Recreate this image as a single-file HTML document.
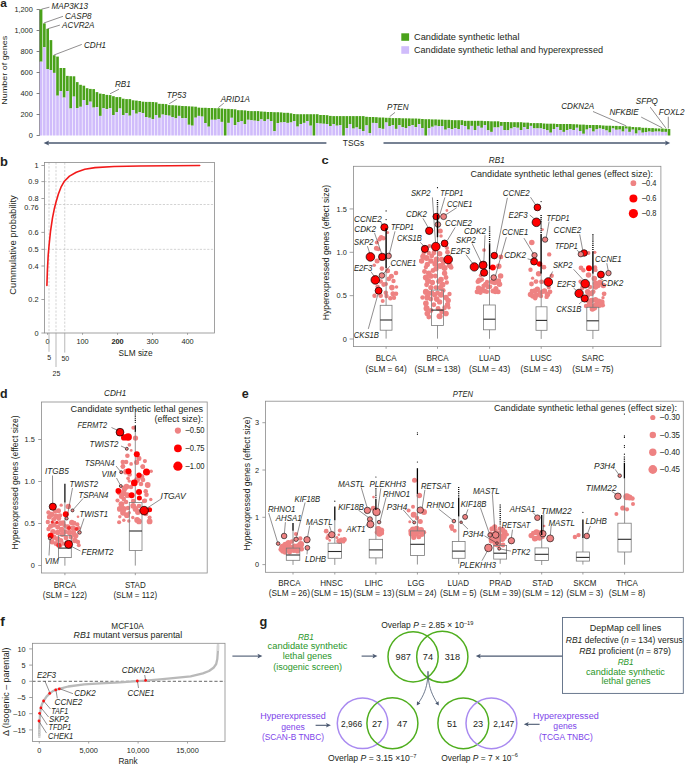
<!DOCTYPE html>
<html><head><meta charset="utf-8"><style>
html,body{margin:0;padding:0;background:#fff;}
svg{display:block;}
</style></head><body>
<svg width="685" height="765" viewBox="0 0 685 765" font-family="'Liberation Sans', sans-serif" fill="#231f20">
<rect width="685" height="765" fill="#fff"/>
<text x="0.30" y="6.60" font-size="11.5" font-weight="bold" textLength="6.60" lengthAdjust="spacingAndGlyphs" >a</text>
<line x1="39.60" y1="9.40" x2="39.60" y2="135.60" stroke="#5e5e5e" stroke-width="0.8" />
<rect x="39.75" y="9.40" width="2.65" height="52.30" fill="#4aa21a" stroke="none" stroke-width="0.8" />
<rect x="39.75" y="61.70" width="2.65" height="73.80" fill="#d0bcfb" stroke="none" stroke-width="0.8" />
<rect x="43.04" y="23.40" width="2.65" height="23.80" fill="#4aa21a" stroke="none" stroke-width="0.8" />
<rect x="43.04" y="47.20" width="2.65" height="88.30" fill="#d0bcfb" stroke="none" stroke-width="0.8" />
<rect x="46.33" y="28.80" width="2.65" height="40.20" fill="#4aa21a" stroke="none" stroke-width="0.8" />
<rect x="46.33" y="69.00" width="2.65" height="66.50" fill="#d0bcfb" stroke="none" stroke-width="0.8" />
<rect x="49.61" y="40.10" width="2.65" height="29.90" fill="#4aa21a" stroke="none" stroke-width="0.8" />
<rect x="49.61" y="70.00" width="2.65" height="65.50" fill="#d0bcfb" stroke="none" stroke-width="0.8" />
<rect x="52.90" y="55.30" width="2.65" height="17.60" fill="#4aa21a" stroke="none" stroke-width="0.8" />
<rect x="52.90" y="72.90" width="2.65" height="62.60" fill="#d0bcfb" stroke="none" stroke-width="0.8" />
<rect x="56.19" y="56.60" width="2.65" height="39.10" fill="#4aa21a" stroke="none" stroke-width="0.8" />
<rect x="56.19" y="95.70" width="2.65" height="39.80" fill="#d0bcfb" stroke="none" stroke-width="0.8" />
<rect x="59.48" y="68.00" width="2.65" height="23.00" fill="#4aa21a" stroke="none" stroke-width="0.8" />
<rect x="59.48" y="91.00" width="2.65" height="44.50" fill="#d0bcfb" stroke="none" stroke-width="0.8" />
<rect x="62.76" y="68.00" width="2.65" height="29.60" fill="#4aa21a" stroke="none" stroke-width="0.8" />
<rect x="62.76" y="97.60" width="2.65" height="37.90" fill="#d0bcfb" stroke="none" stroke-width="0.8" />
<rect x="66.05" y="75.90" width="2.65" height="15.10" fill="#4aa21a" stroke="none" stroke-width="0.8" />
<rect x="66.05" y="91.00" width="2.65" height="44.50" fill="#d0bcfb" stroke="none" stroke-width="0.8" />
<rect x="69.34" y="76.20" width="2.65" height="32.30" fill="#4aa21a" stroke="none" stroke-width="0.8" />
<rect x="69.34" y="108.50" width="2.65" height="27.00" fill="#d0bcfb" stroke="none" stroke-width="0.8" />
<rect x="72.62" y="76.30" width="2.65" height="20.30" fill="#4aa21a" stroke="none" stroke-width="0.8" />
<rect x="72.62" y="96.60" width="2.65" height="38.90" fill="#d0bcfb" stroke="none" stroke-width="0.8" />
<rect x="75.91" y="82.10" width="2.65" height="25.90" fill="#4aa21a" stroke="none" stroke-width="0.8" />
<rect x="75.91" y="108.00" width="2.65" height="27.50" fill="#d0bcfb" stroke="none" stroke-width="0.8" />
<rect x="79.20" y="84.80" width="2.65" height="22.00" fill="#4aa21a" stroke="none" stroke-width="0.8" />
<rect x="79.20" y="106.80" width="2.65" height="28.70" fill="#d0bcfb" stroke="none" stroke-width="0.8" />
<rect x="82.49" y="85.70" width="2.65" height="14.30" fill="#4aa21a" stroke="none" stroke-width="0.8" />
<rect x="82.49" y="100.00" width="2.65" height="35.50" fill="#d0bcfb" stroke="none" stroke-width="0.8" />
<rect x="85.78" y="88.20" width="2.65" height="16.80" fill="#4aa21a" stroke="none" stroke-width="0.8" />
<rect x="85.78" y="105.00" width="2.65" height="30.50" fill="#d0bcfb" stroke="none" stroke-width="0.8" />
<rect x="89.06" y="88.90" width="2.65" height="12.80" fill="#4aa21a" stroke="none" stroke-width="0.8" />
<rect x="89.06" y="101.70" width="2.65" height="33.80" fill="#d0bcfb" stroke="none" stroke-width="0.8" />
<rect x="92.35" y="89.10" width="2.65" height="18.50" fill="#4aa21a" stroke="none" stroke-width="0.8" />
<rect x="92.35" y="107.60" width="2.65" height="27.90" fill="#d0bcfb" stroke="none" stroke-width="0.8" />
<rect x="95.64" y="92.10" width="2.65" height="15.00" fill="#4aa21a" stroke="none" stroke-width="0.8" />
<rect x="95.64" y="107.10" width="2.65" height="28.40" fill="#d0bcfb" stroke="none" stroke-width="0.8" />
<rect x="98.93" y="93.60" width="2.65" height="22.30" fill="#4aa21a" stroke="none" stroke-width="0.8" />
<rect x="98.93" y="115.90" width="2.65" height="19.60" fill="#d0bcfb" stroke="none" stroke-width="0.8" />
<rect x="102.21" y="94.00" width="2.65" height="14.20" fill="#4aa21a" stroke="none" stroke-width="0.8" />
<rect x="102.21" y="108.20" width="2.65" height="27.30" fill="#d0bcfb" stroke="none" stroke-width="0.8" />
<rect x="105.50" y="94.90" width="2.65" height="14.20" fill="#4aa21a" stroke="none" stroke-width="0.8" />
<rect x="105.50" y="109.10" width="2.65" height="26.40" fill="#d0bcfb" stroke="none" stroke-width="0.8" />
<rect x="108.79" y="95.10" width="2.65" height="13.10" fill="#4aa21a" stroke="none" stroke-width="0.8" />
<rect x="108.79" y="108.20" width="2.65" height="27.30" fill="#d0bcfb" stroke="none" stroke-width="0.8" />
<rect x="112.08" y="96.20" width="2.65" height="18.80" fill="#4aa21a" stroke="none" stroke-width="0.8" />
<rect x="112.08" y="115.00" width="2.65" height="20.50" fill="#d0bcfb" stroke="none" stroke-width="0.8" />
<rect x="115.36" y="97.10" width="2.65" height="15.10" fill="#4aa21a" stroke="none" stroke-width="0.8" />
<rect x="115.36" y="112.20" width="2.65" height="23.30" fill="#d0bcfb" stroke="none" stroke-width="0.8" />
<rect x="118.65" y="97.10" width="2.65" height="11.40" fill="#4aa21a" stroke="none" stroke-width="0.8" />
<rect x="118.65" y="108.50" width="2.65" height="27.00" fill="#d0bcfb" stroke="none" stroke-width="0.8" />
<rect x="121.94" y="98.70" width="2.65" height="16.50" fill="#4aa21a" stroke="none" stroke-width="0.8" />
<rect x="121.94" y="115.20" width="2.65" height="20.30" fill="#d0bcfb" stroke="none" stroke-width="0.8" />
<rect x="125.23" y="99.10" width="2.65" height="14.00" fill="#4aa21a" stroke="none" stroke-width="0.8" />
<rect x="125.23" y="113.10" width="2.65" height="22.40" fill="#d0bcfb" stroke="none" stroke-width="0.8" />
<rect x="128.51" y="99.10" width="2.65" height="16.60" fill="#4aa21a" stroke="none" stroke-width="0.8" />
<rect x="128.51" y="115.70" width="2.65" height="19.80" fill="#d0bcfb" stroke="none" stroke-width="0.8" />
<rect x="131.80" y="100.30" width="2.65" height="9.70" fill="#4aa21a" stroke="none" stroke-width="0.8" />
<rect x="131.80" y="110.00" width="2.65" height="25.50" fill="#d0bcfb" stroke="none" stroke-width="0.8" />
<rect x="135.09" y="100.60" width="2.65" height="13.10" fill="#4aa21a" stroke="none" stroke-width="0.8" />
<rect x="135.09" y="113.70" width="2.65" height="21.80" fill="#d0bcfb" stroke="none" stroke-width="0.8" />
<rect x="138.38" y="101.00" width="2.65" height="11.20" fill="#4aa21a" stroke="none" stroke-width="0.8" />
<rect x="138.38" y="112.20" width="2.65" height="23.30" fill="#d0bcfb" stroke="none" stroke-width="0.8" />
<rect x="141.66" y="101.70" width="2.65" height="11.40" fill="#4aa21a" stroke="none" stroke-width="0.8" />
<rect x="141.66" y="113.10" width="2.65" height="22.40" fill="#d0bcfb" stroke="none" stroke-width="0.8" />
<rect x="144.95" y="101.90" width="2.65" height="15.10" fill="#4aa21a" stroke="none" stroke-width="0.8" />
<rect x="144.95" y="117.00" width="2.65" height="18.50" fill="#d0bcfb" stroke="none" stroke-width="0.8" />
<rect x="148.24" y="101.90" width="2.65" height="15.90" fill="#4aa21a" stroke="none" stroke-width="0.8" />
<rect x="148.24" y="117.80" width="2.65" height="17.70" fill="#d0bcfb" stroke="none" stroke-width="0.8" />
<rect x="151.53" y="102.00" width="2.65" height="17.00" fill="#4aa21a" stroke="none" stroke-width="0.8" />
<rect x="151.53" y="119.00" width="2.65" height="16.50" fill="#d0bcfb" stroke="none" stroke-width="0.8" />
<rect x="154.81" y="102.30" width="2.65" height="12.70" fill="#4aa21a" stroke="none" stroke-width="0.8" />
<rect x="154.81" y="115.00" width="2.65" height="20.50" fill="#d0bcfb" stroke="none" stroke-width="0.8" />
<rect x="158.10" y="103.80" width="2.65" height="14.00" fill="#4aa21a" stroke="none" stroke-width="0.8" />
<rect x="158.10" y="117.80" width="2.65" height="17.70" fill="#d0bcfb" stroke="none" stroke-width="0.8" />
<rect x="161.39" y="103.90" width="2.65" height="10.70" fill="#4aa21a" stroke="none" stroke-width="0.8" />
<rect x="161.39" y="114.60" width="2.65" height="20.90" fill="#d0bcfb" stroke="none" stroke-width="0.8" />
<rect x="164.68" y="104.10" width="2.65" height="10.90" fill="#4aa21a" stroke="none" stroke-width="0.8" />
<rect x="164.68" y="115.00" width="2.65" height="20.50" fill="#d0bcfb" stroke="none" stroke-width="0.8" />
<rect x="167.96" y="105.10" width="2.65" height="10.60" fill="#4aa21a" stroke="none" stroke-width="0.8" />
<rect x="167.96" y="115.70" width="2.65" height="19.80" fill="#d0bcfb" stroke="none" stroke-width="0.8" />
<rect x="171.25" y="105.20" width="2.65" height="11.80" fill="#4aa21a" stroke="none" stroke-width="0.8" />
<rect x="171.25" y="117.00" width="2.65" height="18.50" fill="#d0bcfb" stroke="none" stroke-width="0.8" />
<rect x="174.54" y="105.40" width="2.65" height="12.90" fill="#4aa21a" stroke="none" stroke-width="0.8" />
<rect x="174.54" y="118.30" width="2.65" height="17.20" fill="#d0bcfb" stroke="none" stroke-width="0.8" />
<rect x="177.83" y="105.70" width="2.65" height="10.20" fill="#4aa21a" stroke="none" stroke-width="0.8" />
<rect x="177.83" y="115.90" width="2.65" height="19.60" fill="#d0bcfb" stroke="none" stroke-width="0.8" />
<rect x="181.11" y="106.00" width="2.65" height="12.30" fill="#4aa21a" stroke="none" stroke-width="0.8" />
<rect x="181.11" y="118.30" width="2.65" height="17.20" fill="#d0bcfb" stroke="none" stroke-width="0.8" />
<rect x="184.40" y="106.10" width="2.65" height="12.00" fill="#4aa21a" stroke="none" stroke-width="0.8" />
<rect x="184.40" y="118.10" width="2.65" height="17.40" fill="#d0bcfb" stroke="none" stroke-width="0.8" />
<rect x="187.69" y="106.30" width="2.65" height="18.50" fill="#4aa21a" stroke="none" stroke-width="0.8" />
<rect x="187.69" y="124.80" width="2.65" height="10.70" fill="#d0bcfb" stroke="none" stroke-width="0.8" />
<rect x="190.97" y="106.50" width="2.65" height="19.20" fill="#4aa21a" stroke="none" stroke-width="0.8" />
<rect x="190.97" y="125.70" width="2.65" height="9.80" fill="#d0bcfb" stroke="none" stroke-width="0.8" />
<rect x="194.26" y="106.70" width="2.65" height="11.00" fill="#4aa21a" stroke="none" stroke-width="0.8" />
<rect x="194.26" y="117.70" width="2.65" height="17.80" fill="#d0bcfb" stroke="none" stroke-width="0.8" />
<rect x="197.55" y="107.60" width="2.65" height="8.30" fill="#4aa21a" stroke="none" stroke-width="0.8" />
<rect x="197.55" y="115.90" width="2.65" height="19.60" fill="#d0bcfb" stroke="none" stroke-width="0.8" />
<rect x="200.84" y="107.80" width="2.65" height="8.80" fill="#4aa21a" stroke="none" stroke-width="0.8" />
<rect x="200.84" y="116.60" width="2.65" height="18.90" fill="#d0bcfb" stroke="none" stroke-width="0.8" />
<rect x="204.12" y="107.80" width="2.65" height="15.30" fill="#4aa21a" stroke="none" stroke-width="0.8" />
<rect x="204.12" y="123.10" width="2.65" height="12.40" fill="#d0bcfb" stroke="none" stroke-width="0.8" />
<rect x="207.41" y="108.00" width="2.65" height="18.70" fill="#4aa21a" stroke="none" stroke-width="0.8" />
<rect x="207.41" y="126.70" width="2.65" height="8.80" fill="#d0bcfb" stroke="none" stroke-width="0.8" />
<rect x="210.70" y="108.00" width="2.65" height="11.80" fill="#4aa21a" stroke="none" stroke-width="0.8" />
<rect x="210.70" y="119.80" width="2.65" height="15.70" fill="#d0bcfb" stroke="none" stroke-width="0.8" />
<rect x="213.99" y="108.20" width="2.65" height="11.60" fill="#4aa21a" stroke="none" stroke-width="0.8" />
<rect x="213.99" y="119.80" width="2.65" height="15.70" fill="#d0bcfb" stroke="none" stroke-width="0.8" />
<rect x="217.28" y="108.20" width="2.65" height="10.80" fill="#4aa21a" stroke="none" stroke-width="0.8" />
<rect x="217.28" y="119.00" width="2.65" height="16.50" fill="#d0bcfb" stroke="none" stroke-width="0.8" />
<rect x="220.56" y="108.50" width="2.65" height="13.40" fill="#4aa21a" stroke="none" stroke-width="0.8" />
<rect x="220.56" y="121.90" width="2.65" height="13.60" fill="#d0bcfb" stroke="none" stroke-width="0.8" />
<rect x="223.85" y="108.90" width="2.65" height="26.60" fill="#4aa21a" stroke="none" stroke-width="0.8" />
<rect x="227.14" y="108.90" width="2.65" height="14.00" fill="#4aa21a" stroke="none" stroke-width="0.8" />
<rect x="227.14" y="122.90" width="2.65" height="12.60" fill="#d0bcfb" stroke="none" stroke-width="0.8" />
<rect x="230.43" y="109.10" width="2.65" height="8.70" fill="#4aa21a" stroke="none" stroke-width="0.8" />
<rect x="230.43" y="117.80" width="2.65" height="17.70" fill="#d0bcfb" stroke="none" stroke-width="0.8" />
<rect x="233.71" y="109.30" width="2.65" height="15.80" fill="#4aa21a" stroke="none" stroke-width="0.8" />
<rect x="233.71" y="125.10" width="2.65" height="10.40" fill="#d0bcfb" stroke="none" stroke-width="0.8" />
<rect x="237.00" y="110.20" width="2.65" height="11.80" fill="#4aa21a" stroke="none" stroke-width="0.8" />
<rect x="237.00" y="122.00" width="2.65" height="13.50" fill="#d0bcfb" stroke="none" stroke-width="0.8" />
<rect x="240.29" y="110.20" width="2.65" height="10.80" fill="#4aa21a" stroke="none" stroke-width="0.8" />
<rect x="240.29" y="121.00" width="2.65" height="14.50" fill="#d0bcfb" stroke="none" stroke-width="0.8" />
<rect x="243.58" y="110.40" width="2.65" height="13.80" fill="#4aa21a" stroke="none" stroke-width="0.8" />
<rect x="243.58" y="124.20" width="2.65" height="11.30" fill="#d0bcfb" stroke="none" stroke-width="0.8" />
<rect x="246.86" y="110.90" width="2.65" height="8.90" fill="#4aa21a" stroke="none" stroke-width="0.8" />
<rect x="246.86" y="119.80" width="2.65" height="15.70" fill="#d0bcfb" stroke="none" stroke-width="0.8" />
<rect x="250.15" y="111.10" width="2.65" height="9.20" fill="#4aa21a" stroke="none" stroke-width="0.8" />
<rect x="250.15" y="120.30" width="2.65" height="15.20" fill="#d0bcfb" stroke="none" stroke-width="0.8" />
<rect x="253.44" y="111.10" width="2.65" height="9.60" fill="#4aa21a" stroke="none" stroke-width="0.8" />
<rect x="253.44" y="120.70" width="2.65" height="14.80" fill="#d0bcfb" stroke="none" stroke-width="0.8" />
<rect x="256.73" y="111.10" width="2.65" height="9.90" fill="#4aa21a" stroke="none" stroke-width="0.8" />
<rect x="256.73" y="121.00" width="2.65" height="14.50" fill="#d0bcfb" stroke="none" stroke-width="0.8" />
<rect x="260.01" y="111.50" width="2.65" height="7.90" fill="#4aa21a" stroke="none" stroke-width="0.8" />
<rect x="260.01" y="119.40" width="2.65" height="16.10" fill="#d0bcfb" stroke="none" stroke-width="0.8" />
<rect x="263.30" y="111.70" width="2.65" height="9.30" fill="#4aa21a" stroke="none" stroke-width="0.8" />
<rect x="263.30" y="121.00" width="2.65" height="14.50" fill="#d0bcfb" stroke="none" stroke-width="0.8" />
<rect x="266.59" y="112.00" width="2.65" height="7.40" fill="#4aa21a" stroke="none" stroke-width="0.8" />
<rect x="266.59" y="119.40" width="2.65" height="16.10" fill="#d0bcfb" stroke="none" stroke-width="0.8" />
<rect x="269.88" y="112.00" width="2.65" height="9.00" fill="#4aa21a" stroke="none" stroke-width="0.8" />
<rect x="269.88" y="121.00" width="2.65" height="14.50" fill="#d0bcfb" stroke="none" stroke-width="0.8" />
<rect x="273.16" y="112.20" width="2.65" height="19.00" fill="#4aa21a" stroke="none" stroke-width="0.8" />
<rect x="273.16" y="131.20" width="2.65" height="4.30" fill="#d0bcfb" stroke="none" stroke-width="0.8" />
<rect x="276.45" y="112.20" width="2.65" height="10.90" fill="#4aa21a" stroke="none" stroke-width="0.8" />
<rect x="276.45" y="123.10" width="2.65" height="12.40" fill="#d0bcfb" stroke="none" stroke-width="0.8" />
<rect x="279.74" y="112.40" width="2.65" height="10.10" fill="#4aa21a" stroke="none" stroke-width="0.8" />
<rect x="279.74" y="122.50" width="2.65" height="13.00" fill="#d0bcfb" stroke="none" stroke-width="0.8" />
<rect x="283.02" y="112.80" width="2.65" height="9.20" fill="#4aa21a" stroke="none" stroke-width="0.8" />
<rect x="283.02" y="122.00" width="2.65" height="13.50" fill="#d0bcfb" stroke="none" stroke-width="0.8" />
<rect x="286.31" y="112.80" width="2.65" height="10.10" fill="#4aa21a" stroke="none" stroke-width="0.8" />
<rect x="286.31" y="122.90" width="2.65" height="12.60" fill="#d0bcfb" stroke="none" stroke-width="0.8" />
<rect x="289.60" y="113.30" width="2.65" height="9.20" fill="#4aa21a" stroke="none" stroke-width="0.8" />
<rect x="289.60" y="122.50" width="2.65" height="13.00" fill="#d0bcfb" stroke="none" stroke-width="0.8" />
<rect x="292.89" y="114.00" width="2.65" height="7.00" fill="#4aa21a" stroke="none" stroke-width="0.8" />
<rect x="292.89" y="121.00" width="2.65" height="14.50" fill="#d0bcfb" stroke="none" stroke-width="0.8" />
<rect x="296.18" y="114.20" width="2.65" height="12.40" fill="#4aa21a" stroke="none" stroke-width="0.8" />
<rect x="296.18" y="126.60" width="2.65" height="8.90" fill="#d0bcfb" stroke="none" stroke-width="0.8" />
<rect x="299.46" y="114.20" width="2.65" height="9.80" fill="#4aa21a" stroke="none" stroke-width="0.8" />
<rect x="299.46" y="124.00" width="2.65" height="11.50" fill="#d0bcfb" stroke="none" stroke-width="0.8" />
<rect x="302.75" y="114.20" width="2.65" height="8.70" fill="#4aa21a" stroke="none" stroke-width="0.8" />
<rect x="302.75" y="122.90" width="2.65" height="12.60" fill="#d0bcfb" stroke="none" stroke-width="0.8" />
<rect x="306.04" y="114.20" width="2.65" height="6.80" fill="#4aa21a" stroke="none" stroke-width="0.8" />
<rect x="306.04" y="121.00" width="2.65" height="14.50" fill="#d0bcfb" stroke="none" stroke-width="0.8" />
<rect x="309.32" y="114.20" width="2.65" height="11.50" fill="#4aa21a" stroke="none" stroke-width="0.8" />
<rect x="309.32" y="125.70" width="2.65" height="9.80" fill="#d0bcfb" stroke="none" stroke-width="0.8" />
<rect x="312.61" y="114.20" width="2.65" height="21.30" fill="#4aa21a" stroke="none" stroke-width="0.8" />
<rect x="315.90" y="114.20" width="2.65" height="8.90" fill="#4aa21a" stroke="none" stroke-width="0.8" />
<rect x="315.90" y="123.10" width="2.65" height="12.40" fill="#d0bcfb" stroke="none" stroke-width="0.8" />
<rect x="319.19" y="115.00" width="2.65" height="8.60" fill="#4aa21a" stroke="none" stroke-width="0.8" />
<rect x="319.19" y="123.60" width="2.65" height="11.90" fill="#d0bcfb" stroke="none" stroke-width="0.8" />
<rect x="322.48" y="115.00" width="2.65" height="8.80" fill="#4aa21a" stroke="none" stroke-width="0.8" />
<rect x="322.48" y="123.80" width="2.65" height="11.70" fill="#d0bcfb" stroke="none" stroke-width="0.8" />
<rect x="325.76" y="115.20" width="2.65" height="8.80" fill="#4aa21a" stroke="none" stroke-width="0.8" />
<rect x="325.76" y="124.00" width="2.65" height="11.50" fill="#d0bcfb" stroke="none" stroke-width="0.8" />
<rect x="329.05" y="115.90" width="2.65" height="10.10" fill="#4aa21a" stroke="none" stroke-width="0.8" />
<rect x="329.05" y="126.00" width="2.65" height="9.50" fill="#d0bcfb" stroke="none" stroke-width="0.8" />
<rect x="332.34" y="116.10" width="2.65" height="7.90" fill="#4aa21a" stroke="none" stroke-width="0.8" />
<rect x="332.34" y="124.00" width="2.65" height="11.50" fill="#d0bcfb" stroke="none" stroke-width="0.8" />
<rect x="335.62" y="116.10" width="2.65" height="9.60" fill="#4aa21a" stroke="none" stroke-width="0.8" />
<rect x="335.62" y="125.70" width="2.65" height="9.80" fill="#d0bcfb" stroke="none" stroke-width="0.8" />
<rect x="338.91" y="116.10" width="2.65" height="9.00" fill="#4aa21a" stroke="none" stroke-width="0.8" />
<rect x="338.91" y="125.10" width="2.65" height="10.40" fill="#d0bcfb" stroke="none" stroke-width="0.8" />
<rect x="342.20" y="116.10" width="2.65" height="19.40" fill="#4aa21a" stroke="none" stroke-width="0.8" />
<rect x="345.49" y="116.10" width="2.65" height="11.90" fill="#4aa21a" stroke="none" stroke-width="0.8" />
<rect x="345.49" y="128.00" width="2.65" height="7.50" fill="#d0bcfb" stroke="none" stroke-width="0.8" />
<rect x="348.78" y="116.10" width="2.65" height="7.90" fill="#4aa21a" stroke="none" stroke-width="0.8" />
<rect x="348.78" y="124.00" width="2.65" height="11.50" fill="#d0bcfb" stroke="none" stroke-width="0.8" />
<rect x="352.06" y="116.10" width="2.65" height="12.50" fill="#4aa21a" stroke="none" stroke-width="0.8" />
<rect x="352.06" y="128.60" width="2.65" height="6.90" fill="#d0bcfb" stroke="none" stroke-width="0.8" />
<rect x="355.35" y="116.10" width="2.65" height="11.40" fill="#4aa21a" stroke="none" stroke-width="0.8" />
<rect x="355.35" y="127.50" width="2.65" height="8.00" fill="#d0bcfb" stroke="none" stroke-width="0.8" />
<rect x="358.64" y="116.10" width="2.65" height="12.90" fill="#4aa21a" stroke="none" stroke-width="0.8" />
<rect x="358.64" y="129.00" width="2.65" height="6.50" fill="#d0bcfb" stroke="none" stroke-width="0.8" />
<rect x="361.93" y="116.10" width="2.65" height="14.90" fill="#4aa21a" stroke="none" stroke-width="0.8" />
<rect x="361.93" y="131.00" width="2.65" height="4.50" fill="#d0bcfb" stroke="none" stroke-width="0.8" />
<rect x="365.21" y="116.80" width="2.65" height="8.60" fill="#4aa21a" stroke="none" stroke-width="0.8" />
<rect x="365.21" y="125.40" width="2.65" height="10.10" fill="#d0bcfb" stroke="none" stroke-width="0.8" />
<rect x="368.50" y="117.00" width="2.65" height="16.00" fill="#4aa21a" stroke="none" stroke-width="0.8" />
<rect x="368.50" y="133.00" width="2.65" height="2.50" fill="#d0bcfb" stroke="none" stroke-width="0.8" />
<rect x="371.79" y="117.00" width="2.65" height="5.90" fill="#4aa21a" stroke="none" stroke-width="0.8" />
<rect x="371.79" y="122.90" width="2.65" height="12.60" fill="#d0bcfb" stroke="none" stroke-width="0.8" />
<rect x="375.07" y="117.20" width="2.65" height="5.90" fill="#4aa21a" stroke="none" stroke-width="0.8" />
<rect x="375.07" y="123.10" width="2.65" height="12.40" fill="#d0bcfb" stroke="none" stroke-width="0.8" />
<rect x="378.36" y="117.50" width="2.65" height="10.70" fill="#4aa21a" stroke="none" stroke-width="0.8" />
<rect x="378.36" y="128.20" width="2.65" height="7.30" fill="#d0bcfb" stroke="none" stroke-width="0.8" />
<rect x="381.65" y="117.50" width="2.65" height="11.40" fill="#4aa21a" stroke="none" stroke-width="0.8" />
<rect x="381.65" y="128.90" width="2.65" height="6.60" fill="#d0bcfb" stroke="none" stroke-width="0.8" />
<rect x="384.94" y="117.80" width="2.65" height="4.70" fill="#4aa21a" stroke="none" stroke-width="0.8" />
<rect x="384.94" y="122.50" width="2.65" height="13.00" fill="#d0bcfb" stroke="none" stroke-width="0.8" />
<rect x="388.23" y="117.80" width="2.65" height="8.20" fill="#4aa21a" stroke="none" stroke-width="0.8" />
<rect x="388.23" y="126.00" width="2.65" height="9.50" fill="#d0bcfb" stroke="none" stroke-width="0.8" />
<rect x="391.51" y="118.10" width="2.65" height="7.00" fill="#4aa21a" stroke="none" stroke-width="0.8" />
<rect x="391.51" y="125.10" width="2.65" height="10.40" fill="#d0bcfb" stroke="none" stroke-width="0.8" />
<rect x="394.80" y="118.10" width="2.65" height="10.80" fill="#4aa21a" stroke="none" stroke-width="0.8" />
<rect x="394.80" y="128.90" width="2.65" height="6.60" fill="#d0bcfb" stroke="none" stroke-width="0.8" />
<rect x="398.09" y="118.10" width="2.65" height="7.00" fill="#4aa21a" stroke="none" stroke-width="0.8" />
<rect x="398.09" y="125.10" width="2.65" height="10.40" fill="#d0bcfb" stroke="none" stroke-width="0.8" />
<rect x="401.38" y="118.30" width="2.65" height="8.80" fill="#4aa21a" stroke="none" stroke-width="0.8" />
<rect x="401.38" y="127.10" width="2.65" height="8.40" fill="#d0bcfb" stroke="none" stroke-width="0.8" />
<rect x="404.66" y="118.30" width="2.65" height="9.70" fill="#4aa21a" stroke="none" stroke-width="0.8" />
<rect x="404.66" y="128.00" width="2.65" height="7.50" fill="#d0bcfb" stroke="none" stroke-width="0.8" />
<rect x="407.95" y="118.40" width="2.65" height="7.60" fill="#4aa21a" stroke="none" stroke-width="0.8" />
<rect x="407.95" y="126.00" width="2.65" height="9.50" fill="#d0bcfb" stroke="none" stroke-width="0.8" />
<rect x="411.24" y="118.50" width="2.65" height="6.60" fill="#4aa21a" stroke="none" stroke-width="0.8" />
<rect x="411.24" y="125.10" width="2.65" height="10.40" fill="#d0bcfb" stroke="none" stroke-width="0.8" />
<rect x="414.53" y="118.50" width="2.65" height="8.60" fill="#4aa21a" stroke="none" stroke-width="0.8" />
<rect x="414.53" y="127.10" width="2.65" height="8.40" fill="#d0bcfb" stroke="none" stroke-width="0.8" />
<rect x="417.81" y="118.70" width="2.65" height="5.50" fill="#4aa21a" stroke="none" stroke-width="0.8" />
<rect x="417.81" y="124.20" width="2.65" height="11.30" fill="#d0bcfb" stroke="none" stroke-width="0.8" />
<rect x="421.10" y="119.00" width="2.65" height="9.20" fill="#4aa21a" stroke="none" stroke-width="0.8" />
<rect x="421.10" y="128.20" width="2.65" height="7.30" fill="#d0bcfb" stroke="none" stroke-width="0.8" />
<rect x="424.39" y="119.20" width="2.65" height="16.30" fill="#4aa21a" stroke="none" stroke-width="0.8" />
<rect x="427.68" y="119.20" width="2.65" height="9.00" fill="#4aa21a" stroke="none" stroke-width="0.8" />
<rect x="427.68" y="128.20" width="2.65" height="7.30" fill="#d0bcfb" stroke="none" stroke-width="0.8" />
<rect x="430.96" y="119.40" width="2.65" height="7.40" fill="#4aa21a" stroke="none" stroke-width="0.8" />
<rect x="430.96" y="126.80" width="2.65" height="8.70" fill="#d0bcfb" stroke="none" stroke-width="0.8" />
<rect x="434.25" y="119.40" width="2.65" height="6.30" fill="#4aa21a" stroke="none" stroke-width="0.8" />
<rect x="434.25" y="125.70" width="2.65" height="9.80" fill="#d0bcfb" stroke="none" stroke-width="0.8" />
<rect x="437.54" y="119.60" width="2.65" height="6.60" fill="#4aa21a" stroke="none" stroke-width="0.8" />
<rect x="437.54" y="126.20" width="2.65" height="9.30" fill="#d0bcfb" stroke="none" stroke-width="0.8" />
<rect x="440.82" y="119.60" width="2.65" height="6.40" fill="#4aa21a" stroke="none" stroke-width="0.8" />
<rect x="440.82" y="126.00" width="2.65" height="9.50" fill="#d0bcfb" stroke="none" stroke-width="0.8" />
<rect x="444.11" y="119.80" width="2.65" height="9.90" fill="#4aa21a" stroke="none" stroke-width="0.8" />
<rect x="444.11" y="129.70" width="2.65" height="5.80" fill="#d0bcfb" stroke="none" stroke-width="0.8" />
<rect x="447.40" y="119.80" width="2.65" height="8.40" fill="#4aa21a" stroke="none" stroke-width="0.8" />
<rect x="447.40" y="128.20" width="2.65" height="7.30" fill="#d0bcfb" stroke="none" stroke-width="0.8" />
<rect x="450.69" y="120.10" width="2.65" height="9.10" fill="#4aa21a" stroke="none" stroke-width="0.8" />
<rect x="450.69" y="129.20" width="2.65" height="6.30" fill="#d0bcfb" stroke="none" stroke-width="0.8" />
<rect x="453.98" y="120.20" width="2.65" height="7.80" fill="#4aa21a" stroke="none" stroke-width="0.8" />
<rect x="453.98" y="128.00" width="2.65" height="7.50" fill="#d0bcfb" stroke="none" stroke-width="0.8" />
<rect x="457.26" y="120.20" width="2.65" height="8.80" fill="#4aa21a" stroke="none" stroke-width="0.8" />
<rect x="457.26" y="129.00" width="2.65" height="6.50" fill="#d0bcfb" stroke="none" stroke-width="0.8" />
<rect x="460.55" y="120.20" width="2.65" height="4.80" fill="#4aa21a" stroke="none" stroke-width="0.8" />
<rect x="460.55" y="125.00" width="2.65" height="10.50" fill="#d0bcfb" stroke="none" stroke-width="0.8" />
<rect x="463.84" y="120.80" width="2.65" height="5.30" fill="#4aa21a" stroke="none" stroke-width="0.8" />
<rect x="463.84" y="126.10" width="2.65" height="9.40" fill="#d0bcfb" stroke="none" stroke-width="0.8" />
<rect x="467.12" y="120.80" width="2.65" height="8.80" fill="#4aa21a" stroke="none" stroke-width="0.8" />
<rect x="467.12" y="129.60" width="2.65" height="5.90" fill="#d0bcfb" stroke="none" stroke-width="0.8" />
<rect x="470.41" y="120.80" width="2.65" height="5.10" fill="#4aa21a" stroke="none" stroke-width="0.8" />
<rect x="470.41" y="125.90" width="2.65" height="9.60" fill="#d0bcfb" stroke="none" stroke-width="0.8" />
<rect x="473.70" y="120.80" width="2.65" height="9.30" fill="#4aa21a" stroke="none" stroke-width="0.8" />
<rect x="473.70" y="130.10" width="2.65" height="5.40" fill="#d0bcfb" stroke="none" stroke-width="0.8" />
<rect x="476.99" y="120.80" width="2.65" height="5.10" fill="#4aa21a" stroke="none" stroke-width="0.8" />
<rect x="476.99" y="125.90" width="2.65" height="9.60" fill="#d0bcfb" stroke="none" stroke-width="0.8" />
<rect x="480.28" y="120.80" width="2.65" height="7.00" fill="#4aa21a" stroke="none" stroke-width="0.8" />
<rect x="480.28" y="127.80" width="2.65" height="7.70" fill="#d0bcfb" stroke="none" stroke-width="0.8" />
<rect x="483.56" y="121.10" width="2.65" height="3.90" fill="#4aa21a" stroke="none" stroke-width="0.8" />
<rect x="483.56" y="125.00" width="2.65" height="10.50" fill="#d0bcfb" stroke="none" stroke-width="0.8" />
<rect x="486.85" y="121.10" width="2.65" height="9.20" fill="#4aa21a" stroke="none" stroke-width="0.8" />
<rect x="486.85" y="130.30" width="2.65" height="5.20" fill="#d0bcfb" stroke="none" stroke-width="0.8" />
<rect x="490.14" y="121.30" width="2.65" height="10.60" fill="#4aa21a" stroke="none" stroke-width="0.8" />
<rect x="490.14" y="131.90" width="2.65" height="3.60" fill="#d0bcfb" stroke="none" stroke-width="0.8" />
<rect x="493.43" y="121.30" width="2.65" height="6.20" fill="#4aa21a" stroke="none" stroke-width="0.8" />
<rect x="493.43" y="127.50" width="2.65" height="8.00" fill="#d0bcfb" stroke="none" stroke-width="0.8" />
<rect x="496.71" y="121.30" width="2.65" height="6.20" fill="#4aa21a" stroke="none" stroke-width="0.8" />
<rect x="496.71" y="127.50" width="2.65" height="8.00" fill="#d0bcfb" stroke="none" stroke-width="0.8" />
<rect x="500.00" y="122.00" width="2.65" height="3.90" fill="#4aa21a" stroke="none" stroke-width="0.8" />
<rect x="500.00" y="125.90" width="2.65" height="9.60" fill="#d0bcfb" stroke="none" stroke-width="0.8" />
<rect x="503.29" y="122.00" width="2.65" height="8.10" fill="#4aa21a" stroke="none" stroke-width="0.8" />
<rect x="503.29" y="130.10" width="2.65" height="5.40" fill="#d0bcfb" stroke="none" stroke-width="0.8" />
<rect x="506.57" y="122.00" width="2.65" height="8.30" fill="#4aa21a" stroke="none" stroke-width="0.8" />
<rect x="506.57" y="130.30" width="2.65" height="5.20" fill="#d0bcfb" stroke="none" stroke-width="0.8" />
<rect x="509.86" y="122.20" width="2.65" height="6.30" fill="#4aa21a" stroke="none" stroke-width="0.8" />
<rect x="509.86" y="128.50" width="2.65" height="7.00" fill="#d0bcfb" stroke="none" stroke-width="0.8" />
<rect x="513.15" y="122.20" width="2.65" height="5.00" fill="#4aa21a" stroke="none" stroke-width="0.8" />
<rect x="513.15" y="127.20" width="2.65" height="8.30" fill="#d0bcfb" stroke="none" stroke-width="0.8" />
<rect x="516.44" y="122.20" width="2.65" height="5.60" fill="#4aa21a" stroke="none" stroke-width="0.8" />
<rect x="516.44" y="127.80" width="2.65" height="7.70" fill="#d0bcfb" stroke="none" stroke-width="0.8" />
<rect x="519.73" y="122.20" width="2.65" height="7.90" fill="#4aa21a" stroke="none" stroke-width="0.8" />
<rect x="519.73" y="130.10" width="2.65" height="5.40" fill="#d0bcfb" stroke="none" stroke-width="0.8" />
<rect x="523.01" y="122.60" width="2.65" height="4.60" fill="#4aa21a" stroke="none" stroke-width="0.8" />
<rect x="523.01" y="127.20" width="2.65" height="8.30" fill="#d0bcfb" stroke="none" stroke-width="0.8" />
<rect x="526.30" y="122.60" width="2.65" height="6.60" fill="#4aa21a" stroke="none" stroke-width="0.8" />
<rect x="526.30" y="129.20" width="2.65" height="6.30" fill="#d0bcfb" stroke="none" stroke-width="0.8" />
<rect x="529.59" y="123.10" width="2.65" height="2.80" fill="#4aa21a" stroke="none" stroke-width="0.8" />
<rect x="529.59" y="125.90" width="2.65" height="9.60" fill="#d0bcfb" stroke="none" stroke-width="0.8" />
<rect x="532.88" y="123.10" width="2.65" height="5.30" fill="#4aa21a" stroke="none" stroke-width="0.8" />
<rect x="532.88" y="128.40" width="2.65" height="7.10" fill="#d0bcfb" stroke="none" stroke-width="0.8" />
<rect x="536.16" y="123.10" width="2.65" height="5.30" fill="#4aa21a" stroke="none" stroke-width="0.8" />
<rect x="536.16" y="128.40" width="2.65" height="7.10" fill="#d0bcfb" stroke="none" stroke-width="0.8" />
<rect x="539.45" y="123.10" width="2.65" height="5.30" fill="#4aa21a" stroke="none" stroke-width="0.8" />
<rect x="539.45" y="128.40" width="2.65" height="7.10" fill="#d0bcfb" stroke="none" stroke-width="0.8" />
<rect x="542.74" y="123.50" width="2.65" height="5.50" fill="#4aa21a" stroke="none" stroke-width="0.8" />
<rect x="542.74" y="129.00" width="2.65" height="6.50" fill="#d0bcfb" stroke="none" stroke-width="0.8" />
<rect x="546.03" y="123.70" width="2.65" height="6.60" fill="#4aa21a" stroke="none" stroke-width="0.8" />
<rect x="546.03" y="130.30" width="2.65" height="5.20" fill="#d0bcfb" stroke="none" stroke-width="0.8" />
<rect x="549.31" y="123.70" width="2.65" height="9.00" fill="#4aa21a" stroke="none" stroke-width="0.8" />
<rect x="549.31" y="132.70" width="2.65" height="2.80" fill="#d0bcfb" stroke="none" stroke-width="0.8" />
<rect x="552.60" y="123.70" width="2.65" height="5.30" fill="#4aa21a" stroke="none" stroke-width="0.8" />
<rect x="552.60" y="129.00" width="2.65" height="6.50" fill="#d0bcfb" stroke="none" stroke-width="0.8" />
<rect x="555.89" y="124.00" width="2.65" height="3.00" fill="#4aa21a" stroke="none" stroke-width="0.8" />
<rect x="555.89" y="127.00" width="2.65" height="8.50" fill="#d0bcfb" stroke="none" stroke-width="0.8" />
<rect x="559.18" y="124.00" width="2.65" height="6.10" fill="#4aa21a" stroke="none" stroke-width="0.8" />
<rect x="559.18" y="130.10" width="2.65" height="5.40" fill="#d0bcfb" stroke="none" stroke-width="0.8" />
<rect x="562.46" y="124.00" width="2.65" height="7.90" fill="#4aa21a" stroke="none" stroke-width="0.8" />
<rect x="562.46" y="131.90" width="2.65" height="3.60" fill="#d0bcfb" stroke="none" stroke-width="0.8" />
<rect x="565.75" y="124.00" width="2.65" height="6.10" fill="#4aa21a" stroke="none" stroke-width="0.8" />
<rect x="565.75" y="130.10" width="2.65" height="5.40" fill="#d0bcfb" stroke="none" stroke-width="0.8" />
<rect x="569.04" y="124.00" width="2.65" height="5.00" fill="#4aa21a" stroke="none" stroke-width="0.8" />
<rect x="569.04" y="129.00" width="2.65" height="6.50" fill="#d0bcfb" stroke="none" stroke-width="0.8" />
<rect x="572.33" y="124.20" width="2.65" height="5.90" fill="#4aa21a" stroke="none" stroke-width="0.8" />
<rect x="572.33" y="130.10" width="2.65" height="5.40" fill="#d0bcfb" stroke="none" stroke-width="0.8" />
<rect x="575.61" y="124.30" width="2.65" height="3.50" fill="#4aa21a" stroke="none" stroke-width="0.8" />
<rect x="575.61" y="127.80" width="2.65" height="7.70" fill="#d0bcfb" stroke="none" stroke-width="0.8" />
<rect x="578.90" y="124.60" width="2.65" height="6.40" fill="#4aa21a" stroke="none" stroke-width="0.8" />
<rect x="578.90" y="131.00" width="2.65" height="4.50" fill="#d0bcfb" stroke="none" stroke-width="0.8" />
<rect x="582.19" y="124.60" width="2.65" height="9.20" fill="#4aa21a" stroke="none" stroke-width="0.8" />
<rect x="582.19" y="133.80" width="2.65" height="1.70" fill="#d0bcfb" stroke="none" stroke-width="0.8" />
<rect x="585.48" y="124.90" width="2.65" height="4.70" fill="#4aa21a" stroke="none" stroke-width="0.8" />
<rect x="585.48" y="129.60" width="2.65" height="5.90" fill="#d0bcfb" stroke="none" stroke-width="0.8" />
<rect x="588.76" y="125.00" width="2.65" height="3.10" fill="#4aa21a" stroke="none" stroke-width="0.8" />
<rect x="588.76" y="128.10" width="2.65" height="7.40" fill="#d0bcfb" stroke="none" stroke-width="0.8" />
<rect x="592.05" y="125.00" width="2.65" height="6.60" fill="#4aa21a" stroke="none" stroke-width="0.8" />
<rect x="592.05" y="131.60" width="2.65" height="3.90" fill="#d0bcfb" stroke="none" stroke-width="0.8" />
<rect x="595.34" y="125.00" width="2.65" height="4.40" fill="#4aa21a" stroke="none" stroke-width="0.8" />
<rect x="595.34" y="129.40" width="2.65" height="6.10" fill="#d0bcfb" stroke="none" stroke-width="0.8" />
<rect x="598.62" y="125.20" width="2.65" height="3.30" fill="#4aa21a" stroke="none" stroke-width="0.8" />
<rect x="598.62" y="128.50" width="2.65" height="7.00" fill="#d0bcfb" stroke="none" stroke-width="0.8" />
<rect x="601.91" y="125.50" width="2.65" height="3.70" fill="#4aa21a" stroke="none" stroke-width="0.8" />
<rect x="601.91" y="129.20" width="2.65" height="6.30" fill="#d0bcfb" stroke="none" stroke-width="0.8" />
<rect x="605.20" y="125.70" width="2.65" height="4.80" fill="#4aa21a" stroke="none" stroke-width="0.8" />
<rect x="605.20" y="130.50" width="2.65" height="5.00" fill="#d0bcfb" stroke="none" stroke-width="0.8" />
<rect x="608.49" y="125.70" width="2.65" height="6.80" fill="#4aa21a" stroke="none" stroke-width="0.8" />
<rect x="608.49" y="132.50" width="2.65" height="3.00" fill="#d0bcfb" stroke="none" stroke-width="0.8" />
<rect x="611.77" y="125.90" width="2.65" height="2.60" fill="#4aa21a" stroke="none" stroke-width="0.8" />
<rect x="611.77" y="128.50" width="2.65" height="7.00" fill="#d0bcfb" stroke="none" stroke-width="0.8" />
<rect x="615.06" y="125.90" width="2.65" height="3.90" fill="#4aa21a" stroke="none" stroke-width="0.8" />
<rect x="615.06" y="129.80" width="2.65" height="5.70" fill="#d0bcfb" stroke="none" stroke-width="0.8" />
<rect x="618.35" y="126.10" width="2.65" height="3.50" fill="#4aa21a" stroke="none" stroke-width="0.8" />
<rect x="618.35" y="129.60" width="2.65" height="5.90" fill="#d0bcfb" stroke="none" stroke-width="0.8" />
<rect x="621.64" y="126.10" width="2.65" height="5.50" fill="#4aa21a" stroke="none" stroke-width="0.8" />
<rect x="621.64" y="131.60" width="2.65" height="3.90" fill="#d0bcfb" stroke="none" stroke-width="0.8" />
<rect x="624.93" y="126.40" width="2.65" height="2.30" fill="#4aa21a" stroke="none" stroke-width="0.8" />
<rect x="624.93" y="128.70" width="2.65" height="6.80" fill="#d0bcfb" stroke="none" stroke-width="0.8" />
<rect x="628.21" y="126.50" width="2.65" height="5.40" fill="#4aa21a" stroke="none" stroke-width="0.8" />
<rect x="628.21" y="131.90" width="2.65" height="3.60" fill="#d0bcfb" stroke="none" stroke-width="0.8" />
<rect x="631.50" y="127.00" width="2.65" height="2.70" fill="#4aa21a" stroke="none" stroke-width="0.8" />
<rect x="631.50" y="129.70" width="2.65" height="5.80" fill="#d0bcfb" stroke="none" stroke-width="0.8" />
<rect x="634.79" y="127.20" width="2.65" height="6.40" fill="#4aa21a" stroke="none" stroke-width="0.8" />
<rect x="634.79" y="133.60" width="2.65" height="1.90" fill="#d0bcfb" stroke="none" stroke-width="0.8" />
<rect x="638.08" y="127.20" width="2.65" height="3.30" fill="#4aa21a" stroke="none" stroke-width="0.8" />
<rect x="638.08" y="130.50" width="2.65" height="5.00" fill="#d0bcfb" stroke="none" stroke-width="0.8" />
<rect x="641.36" y="127.80" width="2.65" height="4.90" fill="#4aa21a" stroke="none" stroke-width="0.8" />
<rect x="641.36" y="132.70" width="2.65" height="2.80" fill="#d0bcfb" stroke="none" stroke-width="0.8" />
<rect x="644.65" y="127.80" width="2.65" height="4.20" fill="#4aa21a" stroke="none" stroke-width="0.8" />
<rect x="644.65" y="132.00" width="2.65" height="3.50" fill="#d0bcfb" stroke="none" stroke-width="0.8" />
<rect x="647.94" y="128.10" width="2.65" height="3.50" fill="#4aa21a" stroke="none" stroke-width="0.8" />
<rect x="647.94" y="131.60" width="2.65" height="3.90" fill="#d0bcfb" stroke="none" stroke-width="0.8" />
<rect x="651.23" y="128.10" width="2.65" height="3.80" fill="#4aa21a" stroke="none" stroke-width="0.8" />
<rect x="651.23" y="131.90" width="2.65" height="3.60" fill="#d0bcfb" stroke="none" stroke-width="0.8" />
<rect x="654.51" y="128.40" width="2.65" height="3.20" fill="#4aa21a" stroke="none" stroke-width="0.8" />
<rect x="654.51" y="131.60" width="2.65" height="3.90" fill="#d0bcfb" stroke="none" stroke-width="0.8" />
<rect x="657.80" y="128.50" width="2.65" height="3.10" fill="#4aa21a" stroke="none" stroke-width="0.8" />
<rect x="657.80" y="131.60" width="2.65" height="3.90" fill="#d0bcfb" stroke="none" stroke-width="0.8" />
<rect x="661.09" y="128.50" width="2.65" height="3.40" fill="#4aa21a" stroke="none" stroke-width="0.8" />
<rect x="661.09" y="131.90" width="2.65" height="3.60" fill="#d0bcfb" stroke="none" stroke-width="0.8" />
<rect x="664.38" y="128.70" width="2.65" height="3.20" fill="#4aa21a" stroke="none" stroke-width="0.8" />
<rect x="664.38" y="131.90" width="2.65" height="3.60" fill="#d0bcfb" stroke="none" stroke-width="0.8" />
<rect x="667.66" y="129.00" width="2.65" height="6.50" fill="#4aa21a" stroke="none" stroke-width="0.8" />
<line x1="36.60" y1="135.50" x2="39.60" y2="135.50" stroke="#5e5e5e" stroke-width="0.8" />
<text x="32.80" y="138.25" font-size="8.0" text-anchor="end" textLength="4.09" lengthAdjust="spacingAndGlyphs" >0</text>
<line x1="36.60" y1="114.50" x2="39.60" y2="114.50" stroke="#5e5e5e" stroke-width="0.8" />
<text x="32.80" y="117.25" font-size="8.0" text-anchor="end" textLength="12.28" lengthAdjust="spacingAndGlyphs" >200</text>
<line x1="36.60" y1="93.50" x2="39.60" y2="93.50" stroke="#5e5e5e" stroke-width="0.8" />
<text x="32.80" y="96.25" font-size="8.0" text-anchor="end" textLength="12.28" lengthAdjust="spacingAndGlyphs" >400</text>
<line x1="36.60" y1="72.50" x2="39.60" y2="72.50" stroke="#5e5e5e" stroke-width="0.8" />
<text x="32.80" y="75.25" font-size="8.0" text-anchor="end" textLength="12.28" lengthAdjust="spacingAndGlyphs" >600</text>
<line x1="36.60" y1="51.50" x2="39.60" y2="51.50" stroke="#5e5e5e" stroke-width="0.8" />
<text x="32.80" y="54.25" font-size="8.0" text-anchor="end" textLength="12.28" lengthAdjust="spacingAndGlyphs" >800</text>
<line x1="36.60" y1="30.50" x2="39.60" y2="30.50" stroke="#5e5e5e" stroke-width="0.8" />
<text x="32.80" y="33.25" font-size="8.0" text-anchor="end" textLength="18.42" lengthAdjust="spacingAndGlyphs" >1,000</text>
<line x1="36.60" y1="9.50" x2="39.60" y2="9.50" stroke="#5e5e5e" stroke-width="0.8" />
<text x="32.80" y="12.25" font-size="8.0" text-anchor="end" textLength="18.42" lengthAdjust="spacingAndGlyphs" >1,200</text>
<text x="6.90" y="70.30" font-size="8.0" text-anchor="middle" textLength="69.00" lengthAdjust="spacingAndGlyphs" transform="rotate(-90 6.90 70.30)" >Number of genes</text>
<text x="51.60" y="9.21" font-size="8.9" font-style="italic" textLength="36.47" lengthAdjust="spacingAndGlyphs" >MAP3K13</text>
<line x1="41.50" y1="9.20" x2="49.40" y2="7.20" stroke="#231f20" stroke-width="0.5" />
<text x="65.00" y="18.51" font-size="8.9" font-style="italic" textLength="26.56" lengthAdjust="spacingAndGlyphs" >CASP8</text>
<line x1="43.90" y1="23.00" x2="63.00" y2="16.30" stroke="#231f20" stroke-width="0.5" />
<text x="62.10" y="28.46" font-size="8.9" font-style="italic" textLength="32.41" lengthAdjust="spacingAndGlyphs" >ACVR2A</text>
<line x1="47.60" y1="28.80" x2="59.90" y2="25.10" stroke="#231f20" stroke-width="0.5" />
<text x="84.00" y="47.86" font-size="8.9" font-style="italic" textLength="22.05" lengthAdjust="spacingAndGlyphs" >CDH1</text>
<line x1="53.80" y1="55.10" x2="81.80" y2="44.40" stroke="#231f20" stroke-width="0.5" />
<text x="115.00" y="87.06" font-size="8.9" font-style="italic" textLength="15.76" lengthAdjust="spacingAndGlyphs" >RB1</text>
<line x1="110.00" y1="93.80" x2="119.00" y2="89.20" stroke="#231f20" stroke-width="0.5" />
<text x="166.80" y="97.66" font-size="8.9" font-style="italic" textLength="19.36" lengthAdjust="spacingAndGlyphs" >TP53</text>
<line x1="169.20" y1="103.80" x2="176.90" y2="99.10" stroke="#231f20" stroke-width="0.5" />
<text x="220.70" y="101.86" font-size="8.9" font-style="italic" textLength="29.26" lengthAdjust="spacingAndGlyphs" >ARID1A</text>
<line x1="218.30" y1="107.60" x2="223.80" y2="103.20" stroke="#231f20" stroke-width="0.5" />
<text x="387.00" y="109.96" font-size="8.9" font-style="italic" textLength="21.60" lengthAdjust="spacingAndGlyphs" >PTEN</text>
<line x1="389.70" y1="116.60" x2="395.00" y2="112.40" stroke="#231f20" stroke-width="0.5" />
<text x="561.20" y="109.16" font-size="8.9" font-style="italic" textLength="32.85" lengthAdjust="spacingAndGlyphs" >CDKN2A</text>
<line x1="593.00" y1="111.50" x2="626.20" y2="125.90" stroke="#231f20" stroke-width="0.5" />
<text x="609.50" y="114.76" font-size="8.9" font-style="italic" textLength="29.25" lengthAdjust="spacingAndGlyphs" >NFKBIE</text>
<line x1="641.20" y1="117.10" x2="662.20" y2="127.80" stroke="#231f20" stroke-width="0.5" />
<text x="635.80" y="103.96" font-size="8.9" font-style="italic" textLength="22.05" lengthAdjust="spacingAndGlyphs" >SFPQ</text>
<line x1="650.20" y1="107.10" x2="665.70" y2="127.80" stroke="#231f20" stroke-width="0.5" />
<text x="658.80" y="115.46" font-size="8.9" font-style="italic" textLength="25.66" lengthAdjust="spacingAndGlyphs" >FOXL2</text>
<line x1="668.30" y1="116.70" x2="668.30" y2="128.50" stroke="#231f20" stroke-width="0.5" />
<rect x="401.30" y="33.30" width="7.80" height="7.50" fill="#4aa21a" stroke="none" stroke-width="0.8" />
<rect x="401.30" y="46.20" width="7.80" height="7.60" fill="#d0bcfb" stroke="none" stroke-width="0.8" />
<text x="414.00" y="39.96" font-size="8.9" textLength="105.50" lengthAdjust="spacingAndGlyphs" >Candidate synthetic lethal</text>
<text x="414.00" y="52.86" font-size="8.9" textLength="189.00" lengthAdjust="spacingAndGlyphs" >Candidate synthetic lethal and hyperexpressed</text>
<line x1="46.00" y1="143.00" x2="326.40" y2="143.00" stroke="#4a5870" stroke-width="1.3" />
<line x1="383.50" y1="143.00" x2="667.00" y2="143.00" stroke="#4a5870" stroke-width="1.3" />
<path d="M43.6 143 L49.2 140.6 L47.9 143 L49.2 145.4 Z" fill="#4a5870"/>
<path d="M670.2 143 L664.9 140.6 L666.2 143 L664.9 145.4 Z" fill="#4a5870"/>
<text x="353.50" y="146.26" font-size="8.9" text-anchor="middle" textLength="21.40" lengthAdjust="spacingAndGlyphs" >TSGs</text>
<text x="0.00" y="166.00" font-size="12" font-weight="bold" textLength="7.90" lengthAdjust="spacingAndGlyphs" >b</text>
<line x1="44.40" y1="181.60" x2="214.40" y2="181.60" stroke="#c4c4c4" stroke-width="0.75" stroke-dasharray="2.2 1.5"/>
<line x1="44.40" y1="204.50" x2="214.40" y2="204.50" stroke="#c4c4c4" stroke-width="0.75" stroke-dasharray="2.2 1.5"/>
<line x1="44.40" y1="249.35" x2="214.40" y2="249.35" stroke="#c4c4c4" stroke-width="0.75" stroke-dasharray="2.2 1.5"/>
<line x1="49.00" y1="162.50" x2="49.00" y2="333.00" stroke="#c4c4c4" stroke-width="0.75" stroke-dasharray="2.2 1.5"/>
<line x1="56.00" y1="162.50" x2="56.00" y2="333.00" stroke="#c4c4c4" stroke-width="0.75" stroke-dasharray="2.2 1.5"/>
<line x1="64.75" y1="162.50" x2="64.75" y2="333.00" stroke="#c4c4c4" stroke-width="0.75" stroke-dasharray="2.2 1.5"/>
<rect x="44.40" y="162.50" width="170.00" height="170.50" fill="none" stroke="#8a8a8a" stroke-width="0.8" />
<path d="M46.90 285.40 L47.40 270.40 L48.20 255.20 L49.10 245.00 L50.50 231.40 L52.50 217.80 L54.20 209.30 L55.90 202.50 L58.40 194.00 L61.00 187.20 L64.40 181.20 L69.50 176.10 L76.30 172.20 L84.80 169.30 L95.00 167.60 L114.00 166.50 L140.00 166.00 L170.00 165.70 L199.70 165.50" fill="none" stroke="#f21a1a" stroke-width="1.6" stroke-linejoin="round" stroke-linecap="round"/>
<line x1="41.40" y1="165.50" x2="44.40" y2="165.50" stroke="#8a8a8a" stroke-width="0.8" />
<text x="38.60" y="168.35" font-size="8.0" text-anchor="end" textLength="4.09" lengthAdjust="spacingAndGlyphs" >1</text>
<line x1="41.40" y1="181.60" x2="44.40" y2="181.60" stroke="#8a8a8a" stroke-width="0.8" />
<text x="38.60" y="184.15" font-size="8.0" text-anchor="end" textLength="10.23" lengthAdjust="spacingAndGlyphs" >0.9</text>
<line x1="41.40" y1="198.50" x2="44.40" y2="198.50" stroke="#8a8a8a" stroke-width="0.8" />
<text x="38.60" y="201.15" font-size="8.0" text-anchor="end" textLength="10.23" lengthAdjust="spacingAndGlyphs" >0.8</text>
<line x1="41.40" y1="232.40" x2="44.40" y2="232.40" stroke="#8a8a8a" stroke-width="0.8" />
<text x="38.60" y="235.15" font-size="8.0" text-anchor="end" textLength="10.23" lengthAdjust="spacingAndGlyphs" >0.6</text>
<line x1="41.40" y1="249.35" x2="44.40" y2="249.35" stroke="#8a8a8a" stroke-width="0.8" />
<text x="38.60" y="251.85" font-size="8.0" text-anchor="end" textLength="10.23" lengthAdjust="spacingAndGlyphs" >0.5</text>
<line x1="41.40" y1="266.00" x2="44.40" y2="266.00" stroke="#8a8a8a" stroke-width="0.8" />
<text x="38.60" y="268.75" font-size="8.0" text-anchor="end" textLength="10.23" lengthAdjust="spacingAndGlyphs" >0.4</text>
<line x1="41.40" y1="299.50" x2="44.40" y2="299.50" stroke="#8a8a8a" stroke-width="0.8" />
<text x="38.60" y="302.25" font-size="8.0" text-anchor="end" textLength="10.23" lengthAdjust="spacingAndGlyphs" >0.2</text>
<line x1="41.40" y1="333.00" x2="44.40" y2="333.00" stroke="#8a8a8a" stroke-width="0.8" />
<text x="38.60" y="335.75" font-size="8.0" text-anchor="end" textLength="4.09" lengthAdjust="spacingAndGlyphs" >0</text>
<text x="38.60" y="209.65" font-size="8.0" text-anchor="end" textLength="14.32" lengthAdjust="spacingAndGlyphs" >0.76</text>
<line x1="47.55" y1="333.00" x2="47.55" y2="334.80" stroke="#8a8a8a" stroke-width="0.8" />
<text x="47.55" y="344.45" font-size="8.0" text-anchor="middle" textLength="4.09" lengthAdjust="spacingAndGlyphs" >0</text>
<line x1="82.55" y1="333.00" x2="82.55" y2="334.80" stroke="#8a8a8a" stroke-width="0.8" />
<text x="82.55" y="344.45" font-size="8.0" text-anchor="middle" textLength="12.28" lengthAdjust="spacingAndGlyphs" >100</text>
<line x1="117.55" y1="333.00" x2="117.55" y2="334.80" stroke="#8a8a8a" stroke-width="0.8" />
<text x="117.55" y="344.45" font-size="8.0" font-weight="bold" text-anchor="middle" textLength="12.28" lengthAdjust="spacingAndGlyphs" >200</text>
<line x1="152.55" y1="333.00" x2="152.55" y2="334.80" stroke="#8a8a8a" stroke-width="0.8" />
<text x="152.55" y="344.45" font-size="8.0" text-anchor="middle" textLength="12.28" lengthAdjust="spacingAndGlyphs" >300</text>
<line x1="187.55" y1="333.00" x2="187.55" y2="334.80" stroke="#8a8a8a" stroke-width="0.8" />
<text x="187.55" y="344.45" font-size="8.0" text-anchor="middle" textLength="12.28" lengthAdjust="spacingAndGlyphs" >400</text>
<line x1="49.00" y1="333.00" x2="49.00" y2="351.80" stroke="#9a9a9a" stroke-width="0.7" />
<line x1="56.00" y1="333.00" x2="56.00" y2="367.00" stroke="#9a9a9a" stroke-width="0.7" />
<line x1="64.75" y1="333.00" x2="64.75" y2="352.60" stroke="#9a9a9a" stroke-width="0.7" />
<text x="49.30" y="360.01" font-size="7.6" text-anchor="middle" textLength="3.89" lengthAdjust="spacingAndGlyphs" >5</text>
<text x="56.40" y="376.11" font-size="7.6" text-anchor="middle" textLength="7.78" lengthAdjust="spacingAndGlyphs" >25</text>
<text x="65.30" y="361.31" font-size="7.6" text-anchor="middle" textLength="7.78" lengthAdjust="spacingAndGlyphs" >50</text>
<text x="135.60" y="356.06" font-size="8.9" text-anchor="middle" textLength="34.00" lengthAdjust="spacingAndGlyphs" >SLM size</text>
<text x="16.40" y="245.00" font-size="8.6" text-anchor="middle" textLength="99.40" lengthAdjust="spacingAndGlyphs" transform="rotate(-90 16.40 245.00)" >Cummulative probability</text>
<text x="321.60" y="164.20" font-size="11.5" font-weight="bold" textLength="7.20" lengthAdjust="spacingAndGlyphs" >c</text>
<circle cx="381.20" cy="237.50" r="2.50" fill="#ee8282" stroke="none" stroke-width="0.6"/>
<circle cx="383.40" cy="238.30" r="2.30" fill="#ee8282" stroke="none" stroke-width="0.6"/>
<circle cx="379.60" cy="239.20" r="2.20" fill="#ee8282" stroke="none" stroke-width="0.6"/>
<circle cx="376.80" cy="242.40" r="2.00" fill="#ee8282" stroke="none" stroke-width="0.6"/>
<circle cx="376.40" cy="248.20" r="2.50" fill="#ee8282" stroke="none" stroke-width="0.6"/>
<circle cx="378.30" cy="249.20" r="2.00" fill="#ee8282" stroke="none" stroke-width="0.6"/>
<circle cx="377.10" cy="261.00" r="2.50" fill="#ee8282" stroke="none" stroke-width="0.6"/>
<circle cx="374.20" cy="265.30" r="1.80" fill="#ee8282" stroke="none" stroke-width="0.6"/>
<circle cx="381.90" cy="268.60" r="2.30" fill="#ee8282" stroke="none" stroke-width="0.6"/>
<circle cx="387.60" cy="232.60" r="1.50" fill="#ee8282" stroke="none" stroke-width="0.6"/>
<circle cx="387.60" cy="270.70" r="2.50" fill="#ee8282" stroke="none" stroke-width="0.6"/>
<circle cx="396.00" cy="273.00" r="2.30" fill="#ee8282" stroke="none" stroke-width="0.6"/>
<circle cx="391.40" cy="276.30" r="2.50" fill="#ee8282" stroke="none" stroke-width="0.6"/>
<circle cx="388.80" cy="278.90" r="2.30" fill="#ee8282" stroke="none" stroke-width="0.6"/>
<circle cx="380.70" cy="281.50" r="2.30" fill="#ee8282" stroke="none" stroke-width="0.6"/>
<circle cx="383.70" cy="284.50" r="2.40" fill="#ee8282" stroke="none" stroke-width="0.6"/>
<circle cx="391.90" cy="287.60" r="2.80" fill="#ee8282" stroke="none" stroke-width="0.6"/>
<circle cx="377.60" cy="286.60" r="2.20" fill="#ee8282" stroke="none" stroke-width="0.6"/>
<circle cx="385.80" cy="292.70" r="2.30" fill="#ee8282" stroke="none" stroke-width="0.6"/>
<circle cx="392.90" cy="293.70" r="2.50" fill="#ee8282" stroke="none" stroke-width="0.6"/>
<circle cx="396.00" cy="293.70" r="2.30" fill="#ee8282" stroke="none" stroke-width="0.6"/>
<circle cx="374.50" cy="295.80" r="2.20" fill="#ee8282" stroke="none" stroke-width="0.6"/>
<circle cx="380.70" cy="295.80" r="2.30" fill="#ee8282" stroke="none" stroke-width="0.6"/>
<circle cx="390.40" cy="298.30" r="2.30" fill="#ee8282" stroke="none" stroke-width="0.6"/>
<circle cx="394.00" cy="297.80" r="2.20" fill="#ee8282" stroke="none" stroke-width="0.6"/>
<circle cx="382.70" cy="300.90" r="2.00" fill="#ee8282" stroke="none" stroke-width="0.6"/>
<circle cx="386.50" cy="296.00" r="2.20" fill="#ee8282" stroke="none" stroke-width="0.6"/>
<circle cx="378.00" cy="291.00" r="2.00" fill="#ee8282" stroke="none" stroke-width="0.6"/>
<circle cx="393.50" cy="281.00" r="2.20" fill="#ee8282" stroke="none" stroke-width="0.6"/>
<circle cx="386.00" cy="284.00" r="2.00" fill="#ee8282" stroke="none" stroke-width="0.6"/>
<circle cx="396.50" cy="287.00" r="1.80" fill="#ee8282" stroke="none" stroke-width="0.6"/>
<circle cx="423.00" cy="256.60" r="2.81" fill="#ee8282" stroke="none" stroke-width="0.6"/>
<circle cx="421.60" cy="261.00" r="2.68" fill="#ee8282" stroke="none" stroke-width="0.6"/>
<circle cx="426.60" cy="258.00" r="3.05" fill="#ee8282" stroke="none" stroke-width="0.6"/>
<circle cx="427.30" cy="264.50" r="2.68" fill="#ee8282" stroke="none" stroke-width="0.6"/>
<circle cx="425.90" cy="267.10" r="2.20" fill="#ee8282" stroke="none" stroke-width="0.6"/>
<circle cx="431.70" cy="255.90" r="2.44" fill="#ee8282" stroke="none" stroke-width="0.6"/>
<circle cx="430.90" cy="261.00" r="2.68" fill="#ee8282" stroke="none" stroke-width="0.6"/>
<circle cx="435.30" cy="263.80" r="3.05" fill="#ee8282" stroke="none" stroke-width="0.6"/>
<circle cx="436.70" cy="259.50" r="3.05" fill="#ee8282" stroke="none" stroke-width="0.6"/>
<circle cx="439.60" cy="253.70" r="2.81" fill="#ee8282" stroke="none" stroke-width="0.6"/>
<circle cx="441.70" cy="259.50" r="2.68" fill="#ee8282" stroke="none" stroke-width="0.6"/>
<circle cx="440.30" cy="266.00" r="3.05" fill="#ee8282" stroke="none" stroke-width="0.6"/>
<circle cx="443.20" cy="263.10" r="2.44" fill="#ee8282" stroke="none" stroke-width="0.6"/>
<circle cx="444.60" cy="268.10" r="3.05" fill="#ee8282" stroke="none" stroke-width="0.6"/>
<circle cx="447.50" cy="252.30" r="2.44" fill="#ee8282" stroke="none" stroke-width="0.6"/>
<circle cx="449.60" cy="265.30" r="2.81" fill="#ee8282" stroke="none" stroke-width="0.6"/>
<circle cx="451.10" cy="267.40" r="2.44" fill="#ee8282" stroke="none" stroke-width="0.6"/>
<circle cx="436.00" cy="268.80" r="2.68" fill="#ee8282" stroke="none" stroke-width="0.6"/>
<circle cx="433.80" cy="253.00" r="2.44" fill="#ee8282" stroke="none" stroke-width="0.6"/>
<circle cx="428.80" cy="253.00" r="2.20" fill="#ee8282" stroke="none" stroke-width="0.6"/>
<circle cx="423.70" cy="253.00" r="2.20" fill="#ee8282" stroke="none" stroke-width="0.6"/>
<circle cx="428.80" cy="273.20" r="2.81" fill="#ee8282" stroke="none" stroke-width="0.6"/>
<circle cx="425.90" cy="277.50" r="3.05" fill="#ee8282" stroke="none" stroke-width="0.6"/>
<circle cx="430.90" cy="276.00" r="2.81" fill="#ee8282" stroke="none" stroke-width="0.6"/>
<circle cx="428.10" cy="281.10" r="3.05" fill="#ee8282" stroke="none" stroke-width="0.6"/>
<circle cx="432.40" cy="282.50" r="2.68" fill="#ee8282" stroke="none" stroke-width="0.6"/>
<circle cx="426.60" cy="284.70" r="2.44" fill="#ee8282" stroke="none" stroke-width="0.6"/>
<circle cx="435.30" cy="276.00" r="2.44" fill="#ee8282" stroke="none" stroke-width="0.6"/>
<circle cx="441.00" cy="279.60" r="2.81" fill="#ee8282" stroke="none" stroke-width="0.6"/>
<circle cx="444.60" cy="273.20" r="2.68" fill="#ee8282" stroke="none" stroke-width="0.6"/>
<circle cx="446.00" cy="277.50" r="2.44" fill="#ee8282" stroke="none" stroke-width="0.6"/>
<circle cx="442.40" cy="284.70" r="3.05" fill="#ee8282" stroke="none" stroke-width="0.6"/>
<circle cx="446.80" cy="282.50" r="2.20" fill="#ee8282" stroke="none" stroke-width="0.6"/>
<circle cx="430.90" cy="287.60" r="2.68" fill="#ee8282" stroke="none" stroke-width="0.6"/>
<circle cx="436.00" cy="287.60" r="2.44" fill="#ee8282" stroke="none" stroke-width="0.6"/>
<circle cx="440.30" cy="287.60" r="2.68" fill="#ee8282" stroke="none" stroke-width="0.6"/>
<circle cx="425.90" cy="291.90" r="3.05" fill="#ee8282" stroke="none" stroke-width="0.6"/>
<circle cx="427.30" cy="297.60" r="3.05" fill="#ee8282" stroke="none" stroke-width="0.6"/>
<circle cx="425.90" cy="303.40" r="2.81" fill="#ee8282" stroke="none" stroke-width="0.6"/>
<circle cx="426.60" cy="308.40" r="3.05" fill="#ee8282" stroke="none" stroke-width="0.6"/>
<circle cx="427.30" cy="313.50" r="2.81" fill="#ee8282" stroke="none" stroke-width="0.6"/>
<circle cx="428.80" cy="317.00" r="2.44" fill="#ee8282" stroke="none" stroke-width="0.6"/>
<circle cx="434.50" cy="294.70" r="2.68" fill="#ee8282" stroke="none" stroke-width="0.6"/>
<circle cx="436.70" cy="299.10" r="2.81" fill="#ee8282" stroke="none" stroke-width="0.6"/>
<circle cx="433.80" cy="304.80" r="2.44" fill="#ee8282" stroke="none" stroke-width="0.6"/>
<circle cx="439.60" cy="301.90" r="2.68" fill="#ee8282" stroke="none" stroke-width="0.6"/>
<circle cx="441.00" cy="294.70" r="3.05" fill="#ee8282" stroke="none" stroke-width="0.6"/>
<circle cx="443.20" cy="290.40" r="2.44" fill="#ee8282" stroke="none" stroke-width="0.6"/>
<circle cx="446.00" cy="297.60" r="2.81" fill="#ee8282" stroke="none" stroke-width="0.6"/>
<circle cx="448.20" cy="300.50" r="2.68" fill="#ee8282" stroke="none" stroke-width="0.6"/>
<circle cx="447.50" cy="304.80" r="2.68" fill="#ee8282" stroke="none" stroke-width="0.6"/>
<circle cx="444.60" cy="307.70" r="2.44" fill="#ee8282" stroke="none" stroke-width="0.6"/>
<circle cx="448.90" cy="307.70" r="1.83" fill="#ee8282" stroke="none" stroke-width="0.6"/>
<circle cx="446.00" cy="313.50" r="2.81" fill="#ee8282" stroke="none" stroke-width="0.6"/>
<circle cx="439.60" cy="316.30" r="3.05" fill="#ee8282" stroke="none" stroke-width="0.6"/>
<circle cx="438.10" cy="308.40" r="2.44" fill="#ee8282" stroke="none" stroke-width="0.6"/>
<circle cx="428.80" cy="293.30" r="2.81" fill="#ee8282" stroke="none" stroke-width="0.6"/>
<circle cx="430.90" cy="299.10" r="2.44" fill="#ee8282" stroke="none" stroke-width="0.6"/>
<circle cx="424.50" cy="271.50" r="2.44" fill="#ee8282" stroke="none" stroke-width="0.6"/>
<circle cx="433.00" cy="270.50" r="2.44" fill="#ee8282" stroke="none" stroke-width="0.6"/>
<circle cx="438.50" cy="281.50" r="2.44" fill="#ee8282" stroke="none" stroke-width="0.6"/>
<circle cx="431.00" cy="310.50" r="2.44" fill="#ee8282" stroke="none" stroke-width="0.6"/>
<circle cx="442.00" cy="311.50" r="2.68" fill="#ee8282" stroke="none" stroke-width="0.6"/>
<circle cx="449.50" cy="294.00" r="2.20" fill="#ee8282" stroke="none" stroke-width="0.6"/>
<circle cx="422.50" cy="297.50" r="2.20" fill="#ee8282" stroke="none" stroke-width="0.6"/>
<circle cx="432.00" cy="293.00" r="2.44" fill="#ee8282" stroke="none" stroke-width="0.6"/>
<circle cx="437.50" cy="293.00" r="2.44" fill="#ee8282" stroke="none" stroke-width="0.6"/>
<circle cx="446.90" cy="210.50" r="1.40" fill="#ee8282" stroke="none" stroke-width="0.6"/>
<circle cx="440.30" cy="230.90" r="2.50" fill="#ee8282" stroke="none" stroke-width="0.6"/>
<circle cx="429.50" cy="245.90" r="2.00" fill="#ee8282" stroke="none" stroke-width="0.6"/>
<circle cx="441.00" cy="236.00" r="1.80" fill="#ee8282" stroke="none" stroke-width="0.6"/>
<circle cx="434.00" cy="252.00" r="2.20" fill="#ee8282" stroke="none" stroke-width="0.6"/>
<circle cx="447.00" cy="248.00" r="2.00" fill="#ee8282" stroke="none" stroke-width="0.6"/>
<circle cx="484.00" cy="250.00" r="1.87" fill="#ee8282" stroke="none" stroke-width="0.6"/>
<circle cx="500.90" cy="256.90" r="2.42" fill="#ee8282" stroke="none" stroke-width="0.6"/>
<circle cx="498.80" cy="266.20" r="2.75" fill="#ee8282" stroke="none" stroke-width="0.6"/>
<circle cx="500.60" cy="275.90" r="2.75" fill="#ee8282" stroke="none" stroke-width="0.6"/>
<circle cx="480.80" cy="275.20" r="1.98" fill="#ee8282" stroke="none" stroke-width="0.6"/>
<circle cx="479.40" cy="280.30" r="2.75" fill="#ee8282" stroke="none" stroke-width="0.6"/>
<circle cx="477.90" cy="281.70" r="2.42" fill="#ee8282" stroke="none" stroke-width="0.6"/>
<circle cx="481.90" cy="279.50" r="2.20" fill="#ee8282" stroke="none" stroke-width="0.6"/>
<circle cx="485.80" cy="284.60" r="2.75" fill="#ee8282" stroke="none" stroke-width="0.6"/>
<circle cx="488.00" cy="286.70" r="2.53" fill="#ee8282" stroke="none" stroke-width="0.6"/>
<circle cx="478.60" cy="288.20" r="2.75" fill="#ee8282" stroke="none" stroke-width="0.6"/>
<circle cx="477.20" cy="291.80" r="2.53" fill="#ee8282" stroke="none" stroke-width="0.6"/>
<circle cx="482.20" cy="289.60" r="2.75" fill="#ee8282" stroke="none" stroke-width="0.6"/>
<circle cx="484.70" cy="291.00" r="2.53" fill="#ee8282" stroke="none" stroke-width="0.6"/>
<circle cx="486.90" cy="291.80" r="2.20" fill="#ee8282" stroke="none" stroke-width="0.6"/>
<circle cx="480.40" cy="292.50" r="2.42" fill="#ee8282" stroke="none" stroke-width="0.6"/>
<circle cx="490.10" cy="286.70" r="2.20" fill="#ee8282" stroke="none" stroke-width="0.6"/>
<circle cx="492.30" cy="281.70" r="2.75" fill="#ee8282" stroke="none" stroke-width="0.6"/>
<circle cx="494.80" cy="282.40" r="2.75" fill="#ee8282" stroke="none" stroke-width="0.6"/>
<circle cx="498.40" cy="281.00" r="2.75" fill="#ee8282" stroke="none" stroke-width="0.6"/>
<circle cx="499.50" cy="284.20" r="2.75" fill="#ee8282" stroke="none" stroke-width="0.6"/>
<circle cx="493.00" cy="291.00" r="2.53" fill="#ee8282" stroke="none" stroke-width="0.6"/>
<circle cx="495.90" cy="288.50" r="2.53" fill="#ee8282" stroke="none" stroke-width="0.6"/>
<circle cx="498.10" cy="291.80" r="2.53" fill="#ee8282" stroke="none" stroke-width="0.6"/>
<circle cx="495.20" cy="292.10" r="2.20" fill="#ee8282" stroke="none" stroke-width="0.6"/>
<circle cx="487.00" cy="282.00" r="2.20" fill="#ee8282" stroke="none" stroke-width="0.6"/>
<circle cx="483.50" cy="286.00" r="2.20" fill="#ee8282" stroke="none" stroke-width="0.6"/>
<circle cx="531.80" cy="242.40" r="2.75" fill="#ee8282" stroke="none" stroke-width="0.6"/>
<circle cx="549.20" cy="254.40" r="2.20" fill="#ee8282" stroke="none" stroke-width="0.6"/>
<circle cx="543.90" cy="267.20" r="2.42" fill="#ee8282" stroke="none" stroke-width="0.6"/>
<circle cx="530.50" cy="269.70" r="2.20" fill="#ee8282" stroke="none" stroke-width="0.6"/>
<circle cx="538.60" cy="273.80" r="2.75" fill="#ee8282" stroke="none" stroke-width="0.6"/>
<circle cx="551.70" cy="275.70" r="2.20" fill="#ee8282" stroke="none" stroke-width="0.6"/>
<circle cx="532.60" cy="278.20" r="1.65" fill="#ee8282" stroke="none" stroke-width="0.6"/>
<circle cx="536.00" cy="281.60" r="2.42" fill="#ee8282" stroke="none" stroke-width="0.6"/>
<circle cx="541.50" cy="281.80" r="2.42" fill="#ee8282" stroke="none" stroke-width="0.6"/>
<circle cx="531.50" cy="284.00" r="2.42" fill="#ee8282" stroke="none" stroke-width="0.6"/>
<circle cx="548.80" cy="287.60" r="1.98" fill="#ee8282" stroke="none" stroke-width="0.6"/>
<circle cx="530.50" cy="294.40" r="2.75" fill="#ee8282" stroke="none" stroke-width="0.6"/>
<circle cx="534.70" cy="291.00" r="2.75" fill="#ee8282" stroke="none" stroke-width="0.6"/>
<circle cx="537.30" cy="289.30" r="2.75" fill="#ee8282" stroke="none" stroke-width="0.6"/>
<circle cx="533.00" cy="296.10" r="2.75" fill="#ee8282" stroke="none" stroke-width="0.6"/>
<circle cx="536.40" cy="295.20" r="2.75" fill="#ee8282" stroke="none" stroke-width="0.6"/>
<circle cx="539.80" cy="292.70" r="2.42" fill="#ee8282" stroke="none" stroke-width="0.6"/>
<circle cx="544.50" cy="291.00" r="2.75" fill="#ee8282" stroke="none" stroke-width="0.6"/>
<circle cx="547.50" cy="294.40" r="2.75" fill="#ee8282" stroke="none" stroke-width="0.6"/>
<circle cx="550.00" cy="291.80" r="2.42" fill="#ee8282" stroke="none" stroke-width="0.6"/>
<circle cx="546.60" cy="296.90" r="2.20" fill="#ee8282" stroke="none" stroke-width="0.6"/>
<circle cx="535.20" cy="298.20" r="2.20" fill="#ee8282" stroke="none" stroke-width="0.6"/>
<circle cx="542.40" cy="291.80" r="2.42" fill="#ee8282" stroke="none" stroke-width="0.6"/>
<circle cx="531.80" cy="291.00" r="2.20" fill="#ee8282" stroke="none" stroke-width="0.6"/>
<circle cx="542.50" cy="229.60" r="1.43" fill="#ee8282" stroke="none" stroke-width="0.6"/>
<circle cx="541.00" cy="296.00" r="2.20" fill="#ee8282" stroke="none" stroke-width="0.6"/>
<circle cx="581.00" cy="267.90" r="2.42" fill="#ee8282" stroke="none" stroke-width="0.6"/>
<circle cx="583.40" cy="270.30" r="2.20" fill="#ee8282" stroke="none" stroke-width="0.6"/>
<circle cx="595.10" cy="267.50" r="2.20" fill="#ee8282" stroke="none" stroke-width="0.6"/>
<circle cx="595.50" cy="269.90" r="2.20" fill="#ee8282" stroke="none" stroke-width="0.6"/>
<circle cx="588.50" cy="275.00" r="2.75" fill="#ee8282" stroke="none" stroke-width="0.6"/>
<circle cx="594.30" cy="278.50" r="2.75" fill="#ee8282" stroke="none" stroke-width="0.6"/>
<circle cx="580.60" cy="281.60" r="2.20" fill="#ee8282" stroke="none" stroke-width="0.6"/>
<circle cx="595.50" cy="283.20" r="2.75" fill="#ee8282" stroke="none" stroke-width="0.6"/>
<circle cx="597.90" cy="285.60" r="2.75" fill="#ee8282" stroke="none" stroke-width="0.6"/>
<circle cx="603.30" cy="285.60" r="2.75" fill="#ee8282" stroke="none" stroke-width="0.6"/>
<circle cx="595.50" cy="287.10" r="2.75" fill="#ee8282" stroke="none" stroke-width="0.6"/>
<circle cx="599.80" cy="282.40" r="2.75" fill="#ee8282" stroke="none" stroke-width="0.6"/>
<circle cx="582.20" cy="287.90" r="2.20" fill="#ee8282" stroke="none" stroke-width="0.6"/>
<circle cx="587.70" cy="291.80" r="2.75" fill="#ee8282" stroke="none" stroke-width="0.6"/>
<circle cx="591.20" cy="293.40" r="2.75" fill="#ee8282" stroke="none" stroke-width="0.6"/>
<circle cx="593.20" cy="291.80" r="2.42" fill="#ee8282" stroke="none" stroke-width="0.6"/>
<circle cx="604.10" cy="293.80" r="2.42" fill="#ee8282" stroke="none" stroke-width="0.6"/>
<circle cx="603.00" cy="297.70" r="1.65" fill="#ee8282" stroke="none" stroke-width="0.6"/>
<circle cx="588.80" cy="301.20" r="2.75" fill="#ee8282" stroke="none" stroke-width="0.6"/>
<circle cx="591.60" cy="300.50" r="2.75" fill="#ee8282" stroke="none" stroke-width="0.6"/>
<circle cx="595.50" cy="299.70" r="2.75" fill="#ee8282" stroke="none" stroke-width="0.6"/>
<circle cx="598.60" cy="301.20" r="2.75" fill="#ee8282" stroke="none" stroke-width="0.6"/>
<circle cx="601.80" cy="302.00" r="2.75" fill="#ee8282" stroke="none" stroke-width="0.6"/>
<circle cx="602.60" cy="305.20" r="2.42" fill="#ee8282" stroke="none" stroke-width="0.6"/>
<circle cx="589.60" cy="304.40" r="2.75" fill="#ee8282" stroke="none" stroke-width="0.6"/>
<circle cx="593.20" cy="305.90" r="2.75" fill="#ee8282" stroke="none" stroke-width="0.6"/>
<circle cx="596.30" cy="304.40" r="2.75" fill="#ee8282" stroke="none" stroke-width="0.6"/>
<circle cx="599.40" cy="305.20" r="2.75" fill="#ee8282" stroke="none" stroke-width="0.6"/>
<circle cx="592.40" cy="309.10" r="2.75" fill="#ee8282" stroke="none" stroke-width="0.6"/>
<circle cx="594.70" cy="308.30" r="2.42" fill="#ee8282" stroke="none" stroke-width="0.6"/>
<circle cx="587.70" cy="295.80" r="2.42" fill="#ee8282" stroke="none" stroke-width="0.6"/>
<circle cx="588.50" cy="253.00" r="1.98" fill="#ee8282" stroke="none" stroke-width="0.6"/>
<circle cx="594.80" cy="252.30" r="1.65" fill="#ee8282" stroke="none" stroke-width="0.6"/>
<circle cx="590.00" cy="287.00" r="2.20" fill="#ee8282" stroke="none" stroke-width="0.6"/>
<circle cx="586.00" cy="306.00" r="2.20" fill="#ee8282" stroke="none" stroke-width="0.6"/>
<line x1="386.10" y1="330.20" x2="386.10" y2="338.60" stroke="#7a7a7a" stroke-width="0.8" />
<line x1="386.10" y1="305.30" x2="386.10" y2="268.00" stroke="#7a7a7a" stroke-width="0.8" />
<rect x="380.20" y="305.30" width="11.80" height="24.90" fill="none" stroke="#7a7a7a" stroke-width="0.8" />
<line x1="380.20" y1="320.00" x2="392.00" y2="320.00" stroke="#2a2a2a" stroke-width="1.1" />
<line x1="437.50" y1="325.40" x2="437.50" y2="338.60" stroke="#7a7a7a" stroke-width="0.8" />
<line x1="437.50" y1="290.10" x2="437.50" y2="237.00" stroke="#7a7a7a" stroke-width="0.8" />
<rect x="431.40" y="290.10" width="12.10" height="35.30" fill="none" stroke="#7a7a7a" stroke-width="0.8" />
<line x1="431.40" y1="310.10" x2="443.50" y2="310.10" stroke="#2a2a2a" stroke-width="1.1" />
<line x1="489.50" y1="329.80" x2="489.50" y2="338.80" stroke="#7a7a7a" stroke-width="0.8" />
<line x1="489.50" y1="305.00" x2="489.50" y2="269.00" stroke="#7a7a7a" stroke-width="0.8" />
<rect x="483.40" y="305.00" width="11.90" height="24.80" fill="none" stroke="#7a7a7a" stroke-width="0.8" />
<line x1="483.40" y1="319.20" x2="495.30" y2="319.20" stroke="#2a2a2a" stroke-width="1.1" />
<line x1="541.20" y1="330.30" x2="541.20" y2="338.90" stroke="#7a7a7a" stroke-width="0.8" />
<line x1="541.20" y1="306.80" x2="541.20" y2="273.00" stroke="#7a7a7a" stroke-width="0.8" />
<rect x="536.00" y="306.80" width="11.00" height="23.50" fill="none" stroke="#7a7a7a" stroke-width="0.8" />
<line x1="536.00" y1="320.40" x2="547.00" y2="320.40" stroke="#2a2a2a" stroke-width="1.1" />
<line x1="592.90" y1="330.30" x2="592.90" y2="339.00" stroke="#7a7a7a" stroke-width="0.8" />
<line x1="592.90" y1="307.30" x2="592.90" y2="273.00" stroke="#7a7a7a" stroke-width="0.8" />
<rect x="586.80" y="307.30" width="12.00" height="23.00" fill="none" stroke="#7a7a7a" stroke-width="0.8" />
<line x1="586.80" y1="320.80" x2="598.80" y2="320.80" stroke="#2a2a2a" stroke-width="1.1" />
<circle cx="384.40" cy="227.30" r="3.60" fill="#ff0000" stroke="#000" stroke-width="0.7"/>
<circle cx="370.40" cy="256.90" r="4.30" fill="#ff0000" stroke="#000" stroke-width="0.7"/>
<circle cx="382.20" cy="256.90" r="3.70" fill="#ff0000" stroke="#000" stroke-width="0.7"/>
<circle cx="388.60" cy="255.90" r="2.80" fill="#ee8282" stroke="#111" stroke-width="0.65"/>
<circle cx="381.90" cy="275.50" r="2.80" fill="#ee8282" stroke="#111" stroke-width="0.65"/>
<circle cx="375.30" cy="279.90" r="4.30" fill="#ff0000" stroke="#000" stroke-width="0.7"/>
<circle cx="378.60" cy="290.70" r="3.50" fill="#ff0000" stroke="#000" stroke-width="0.7"/>
<circle cx="436.20" cy="216.60" r="3.30" fill="#ff0000" stroke="#000" stroke-width="0.7"/>
<circle cx="443.60" cy="216.60" r="3.00" fill="#ee8282" stroke="#111" stroke-width="0.65"/>
<circle cx="429.20" cy="230.80" r="3.70" fill="#ff0000" stroke="#000" stroke-width="0.7"/>
<circle cx="437.90" cy="224.50" r="2.80" fill="#ee8282" stroke="#111" stroke-width="0.65"/>
<circle cx="444.60" cy="243.40" r="3.40" fill="#ff0000" stroke="#000" stroke-width="0.7"/>
<circle cx="435.80" cy="246.60" r="4.30" fill="#ff0000" stroke="#000" stroke-width="0.7"/>
<circle cx="424.90" cy="248.90" r="3.60" fill="#ff0000" stroke="#000" stroke-width="0.7"/>
<circle cx="448.20" cy="259.50" r="4.30" fill="#ff0000" stroke="#000" stroke-width="0.7"/>
<circle cx="474.30" cy="266.90" r="4.20" fill="#ff0000" stroke="#000" stroke-width="0.7"/>
<circle cx="483.10" cy="265.10" r="4.00" fill="#ff0000" stroke="#000" stroke-width="0.7"/>
<circle cx="484.10" cy="272.70" r="3.60" fill="#ff0000" stroke="#000" stroke-width="0.7"/>
<circle cx="494.30" cy="255.60" r="3.30" fill="#ff0000" stroke="#000" stroke-width="0.7"/>
<circle cx="492.80" cy="267.60" r="3.00" fill="#ff0000" stroke="none" stroke-width="0.6"/>
<circle cx="493.70" cy="277.50" r="2.80" fill="#ee8282" stroke="#111" stroke-width="0.65"/>
<circle cx="537.40" cy="207.40" r="3.40" fill="#ff0000" stroke="#000" stroke-width="0.7"/>
<circle cx="536.40" cy="222.30" r="4.30" fill="#ff0000" stroke="#000" stroke-width="0.7"/>
<circle cx="545.10" cy="239.60" r="2.70" fill="#ee8282" stroke="#111" stroke-width="0.65"/>
<circle cx="534.50" cy="255.20" r="2.70" fill="#ee8282" stroke="#111" stroke-width="0.65"/>
<circle cx="534.10" cy="261.50" r="3.50" fill="#ff0000" stroke="#000" stroke-width="0.7"/>
<circle cx="539.60" cy="264.00" r="2.70" fill="#ff0000" stroke="none" stroke-width="0.6"/>
<circle cx="548.30" cy="282.00" r="4.30" fill="#ff0000" stroke="#000" stroke-width="0.7"/>
<circle cx="584.10" cy="253.00" r="3.30" fill="#ff0000" stroke="#000" stroke-width="0.7"/>
<circle cx="580.80" cy="254.20" r="2.70" fill="#ee8282" stroke="#111" stroke-width="0.65"/>
<circle cx="589.00" cy="268.30" r="3.00" fill="#ff0000" stroke="none" stroke-width="0.6"/>
<circle cx="600.90" cy="274.60" r="3.50" fill="#ff0000" stroke="#000" stroke-width="0.7"/>
<circle cx="608.50" cy="273.10" r="2.70" fill="#ee8282" stroke="#111" stroke-width="0.65"/>
<circle cx="585.20" cy="283.70" r="4.30" fill="#ff0000" stroke="#000" stroke-width="0.7"/>
<circle cx="579.10" cy="293.40" r="4.20" fill="#ff0000" stroke="#000" stroke-width="0.7"/>
<circle cx="584.70" cy="298.50" r="3.60" fill="#ff0000" stroke="#000" stroke-width="0.7"/>
<circle cx="386.10" cy="210.90" r="0.60" fill="#000" stroke="none" stroke-width="0.6"/>
<circle cx="386.10" cy="219.60" r="0.60" fill="#000" stroke="none" stroke-width="0.6"/>
<line x1="386.10" y1="228.30" x2="386.10" y2="268.10" stroke="#000" stroke-width="1.4" />
<circle cx="437.50" cy="187.70" r="0.60" fill="#000" stroke="none" stroke-width="0.6"/>
<line x1="437.50" y1="200.00" x2="437.50" y2="215.00" stroke="#000" stroke-width="1.4" stroke-dasharray="1.1 1.0"/>
<line x1="437.50" y1="215.00" x2="437.50" y2="237.20" stroke="#000" stroke-width="1.4" />
<line x1="489.60" y1="226.40" x2="489.60" y2="244.20" stroke="#000" stroke-width="1.4" stroke-dasharray="1.1 1.0"/>
<line x1="489.60" y1="244.20" x2="489.60" y2="269.00" stroke="#000" stroke-width="1.4" />
<circle cx="541.10" cy="201.60" r="0.60" fill="#000" stroke="none" stroke-width="0.6"/>
<line x1="541.10" y1="215.00" x2="541.10" y2="234.00" stroke="#000" stroke-width="1.4" stroke-dasharray="1.1 1.0"/>
<line x1="541.10" y1="234.00" x2="541.10" y2="273.40" stroke="#000" stroke-width="1.4" />
<line x1="592.90" y1="234.30" x2="592.90" y2="251.50" stroke="#000" stroke-width="1.4" stroke-dasharray="1.1 1.0"/>
<line x1="592.90" y1="251.50" x2="592.90" y2="273.40" stroke="#000" stroke-width="1.4" />
<text x="354.10" y="221.56" font-size="8.9" font-style="italic" textLength="27.60" lengthAdjust="spacingAndGlyphs" >CCNE2</text>
<line x1="380.70" y1="221.60" x2="382.70" y2="225.20" stroke="#231f20" stroke-width="0.5" />
<text x="354.30" y="231.86" font-size="8.9" font-style="italic" textLength="21.70" lengthAdjust="spacingAndGlyphs" >CDK2</text>
<line x1="374.50" y1="232.90" x2="381.90" y2="254.30" stroke="#231f20" stroke-width="0.5" />
<text x="390.90" y="229.76" font-size="8.9" font-style="italic" textLength="23.00" lengthAdjust="spacingAndGlyphs" >TFDP1</text>
<line x1="395.00" y1="231.30" x2="389.30" y2="254.30" stroke="#231f20" stroke-width="0.5" />
<text x="354.10" y="245.46" font-size="8.9" font-style="italic" textLength="19.40" lengthAdjust="spacingAndGlyphs" >SKP2</text>
<line x1="367.40" y1="246.20" x2="369.90" y2="253.60" stroke="#231f20" stroke-width="0.5" />
<text x="353.90" y="270.66" font-size="8.9" font-style="italic" textLength="18.40" lengthAdjust="spacingAndGlyphs" >E2F3</text>
<line x1="371.00" y1="271.70" x2="374.50" y2="276.80" stroke="#231f20" stroke-width="0.5" />
<text x="390.40" y="266.06" font-size="8.9" font-style="italic" textLength="26.00" lengthAdjust="spacingAndGlyphs" >CCNE1</text>
<line x1="389.90" y1="266.10" x2="383.20" y2="274.10" stroke="#231f20" stroke-width="0.5" />
<text x="353.80" y="338.06" font-size="8.9" font-style="italic" textLength="25.20" lengthAdjust="spacingAndGlyphs" >CKS1B</text>
<line x1="368.30" y1="328.90" x2="378.00" y2="294.00" stroke="#231f20" stroke-width="0.5" />
<text x="411.00" y="196.36" font-size="8.9" font-style="italic" textLength="19.50" lengthAdjust="spacingAndGlyphs" >SKP2</text>
<line x1="432.40" y1="197.40" x2="435.50" y2="242.50" stroke="#231f20" stroke-width="0.5" />
<text x="440.30" y="196.36" font-size="8.9" font-style="italic" textLength="22.90" lengthAdjust="spacingAndGlyphs" >TFDP1</text>
<line x1="444.90" y1="197.40" x2="440.00" y2="214.00" stroke="#231f20" stroke-width="0.5" />
<text x="446.90" y="207.06" font-size="8.9" font-style="italic" textLength="25.50" lengthAdjust="spacingAndGlyphs" >CCNE1</text>
<line x1="456.60" y1="207.80" x2="445.90" y2="214.70" stroke="#231f20" stroke-width="0.5" />
<text x="406.00" y="217.26" font-size="8.9" font-style="italic" textLength="21.00" lengthAdjust="spacingAndGlyphs" >CDK2</text>
<line x1="422.90" y1="218.30" x2="428.00" y2="227.20" stroke="#231f20" stroke-width="0.5" />
<text x="444.90" y="225.96" font-size="8.9" font-style="italic" textLength="27.10" lengthAdjust="spacingAndGlyphs" >CCNE2</text>
<line x1="455.10" y1="227.50" x2="447.40" y2="240.30" stroke="#231f20" stroke-width="0.5" />
<text x="397.00" y="240.76" font-size="8.9" font-style="italic" textLength="24.90" lengthAdjust="spacingAndGlyphs" >CKS1B</text>
<line x1="420.30" y1="242.30" x2="424.90" y2="247.20" stroke="#231f20" stroke-width="0.5" />
<text x="464.10" y="233.86" font-size="8.9" font-style="italic" textLength="21.90" lengthAdjust="spacingAndGlyphs" >CDK2</text>
<line x1="485.00" y1="235.20" x2="483.80" y2="263.20" stroke="#231f20" stroke-width="0.5" />
<text x="456.10" y="242.96" font-size="8.9" font-style="italic" textLength="19.70" lengthAdjust="spacingAndGlyphs" >SKP2</text>
<line x1="472.10" y1="243.50" x2="481.60" y2="263.20" stroke="#231f20" stroke-width="0.5" />
<text x="450.50" y="253.66" font-size="8.9" font-style="italic" textLength="19.40" lengthAdjust="spacingAndGlyphs" >E2F3</text>
<line x1="466.00" y1="254.70" x2="473.60" y2="264.70" stroke="#231f20" stroke-width="0.5" />
<line x1="450.40" y1="254.50" x2="448.90" y2="256.00" stroke="#231f20" stroke-width="0.5" />
<text x="502.80" y="195.86" font-size="8.9" font-style="italic" textLength="27.00" lengthAdjust="spacingAndGlyphs" >CCNE2</text>
<line x1="507.40" y1="197.80" x2="496.20" y2="253.00" stroke="#231f20" stroke-width="0.5" />
<line x1="530.50" y1="197.20" x2="535.60" y2="204.80" stroke="#231f20" stroke-width="0.5" />
<text x="508.60" y="218.06" font-size="8.9" font-style="italic" textLength="19.00" lengthAdjust="spacingAndGlyphs" >E2F3</text>
<line x1="529.80" y1="215.00" x2="534.90" y2="219.40" stroke="#231f20" stroke-width="0.5" />
<text x="502.00" y="234.86" font-size="8.9" font-style="italic" textLength="26.30" lengthAdjust="spacingAndGlyphs" >CCNE1</text>
<line x1="506.40" y1="237.20" x2="495.50" y2="275.60" stroke="#231f20" stroke-width="0.5" />
<line x1="523.90" y1="238.10" x2="533.40" y2="253.70" stroke="#231f20" stroke-width="0.5" />
<text x="504.20" y="258.26" font-size="8.9" font-style="italic" textLength="21.90" lengthAdjust="spacingAndGlyphs" >CDK2</text>
<line x1="527.60" y1="258.80" x2="533.40" y2="260.30" stroke="#231f20" stroke-width="0.5" />
<text x="546.60" y="220.76" font-size="8.9" font-style="italic" textLength="22.90" lengthAdjust="spacingAndGlyphs" >TFDP1</text>
<line x1="549.10" y1="221.60" x2="546.20" y2="237.70" stroke="#231f20" stroke-width="0.5" />
<text x="552.90" y="268.06" font-size="8.9" font-style="italic" textLength="19.50" lengthAdjust="spacingAndGlyphs" >SKP2</text>
<line x1="552.60" y1="271.50" x2="549.30" y2="278.40" stroke="#231f20" stroke-width="0.5" />
<line x1="573.60" y1="269.30" x2="583.30" y2="279.90" stroke="#231f20" stroke-width="0.5" />
<text x="553.50" y="233.46" font-size="8.9" font-style="italic" textLength="27.70" lengthAdjust="spacingAndGlyphs" >CCNE2</text>
<line x1="579.70" y1="234.30" x2="582.70" y2="250.10" stroke="#231f20" stroke-width="0.5" />
<text x="554.90" y="249.06" font-size="8.9" font-style="italic" textLength="22.90" lengthAdjust="spacingAndGlyphs" >TFDP1</text>
<line x1="576.80" y1="250.10" x2="579.70" y2="252.30" stroke="#231f20" stroke-width="0.5" />
<text x="595.10" y="261.86" font-size="8.9" font-style="italic" textLength="26.50" lengthAdjust="spacingAndGlyphs" >CCNE1</text>
<line x1="606.80" y1="263.20" x2="608.20" y2="270.50" stroke="#231f20" stroke-width="0.5" />
<text x="601.30" y="286.06" font-size="8.9" font-style="italic" textLength="22.00" lengthAdjust="spacingAndGlyphs" >CDK2</text>
<line x1="600.00" y1="278.50" x2="603.00" y2="280.00" stroke="#231f20" stroke-width="0.5" />
<text x="556.90" y="287.06" font-size="8.9" font-style="italic" textLength="18.70" lengthAdjust="spacingAndGlyphs" >E2F3</text>
<line x1="573.50" y1="288.00" x2="577.00" y2="291.00" stroke="#231f20" stroke-width="0.5" />
<text x="556.30" y="312.36" font-size="8.9" font-style="italic" textLength="25.20" lengthAdjust="spacingAndGlyphs" >CKS1B</text>
<line x1="579.00" y1="304.00" x2="582.50" y2="301.00" stroke="#231f20" stroke-width="0.5" />
<rect x="353.50" y="166.30" width="307.40" height="180.30" fill="none" stroke="#8a8a8a" stroke-width="0.8" />
<line x1="349.60" y1="339.00" x2="353.50" y2="339.00" stroke="#8a8a8a" stroke-width="0.8" />
<text x="346.80" y="341.75" font-size="8.0" text-anchor="end" textLength="4.09" lengthAdjust="spacingAndGlyphs" >0</text>
<line x1="349.60" y1="295.65" x2="353.50" y2="295.65" stroke="#8a8a8a" stroke-width="0.8" />
<text x="346.80" y="298.40" font-size="8.0" text-anchor="end" textLength="10.23" lengthAdjust="spacingAndGlyphs" >0.5</text>
<line x1="349.60" y1="252.30" x2="353.50" y2="252.30" stroke="#8a8a8a" stroke-width="0.8" />
<text x="346.80" y="255.05" font-size="8.0" text-anchor="end" textLength="10.23" lengthAdjust="spacingAndGlyphs" >1.0</text>
<line x1="349.60" y1="208.95" x2="353.50" y2="208.95" stroke="#8a8a8a" stroke-width="0.8" />
<text x="346.80" y="211.70" font-size="8.0" text-anchor="end" textLength="10.23" lengthAdjust="spacingAndGlyphs" >1.5</text>
<text x="329.20" y="252.50" font-size="8.6" text-anchor="middle" textLength="135.30" lengthAdjust="spacingAndGlyphs" transform="rotate(-90 329.20 252.50)" >Hyperexpressed genes (effect size)</text>
<line x1="386.10" y1="346.60" x2="386.10" y2="348.80" stroke="#8a8a8a" stroke-width="0.8" />
<text x="386.10" y="361.14" font-size="9.7" text-anchor="middle" textLength="20.91" lengthAdjust="spacingAndGlyphs" >BLCA</text>
<text x="386.10" y="371.64" font-size="9.7" text-anchor="middle" textLength="41.19" lengthAdjust="spacingAndGlyphs" >(SLM = 64)</text>
<line x1="437.50" y1="346.60" x2="437.50" y2="348.80" stroke="#8a8a8a" stroke-width="0.8" />
<text x="437.50" y="361.14" font-size="9.7" text-anchor="middle" textLength="22.24" lengthAdjust="spacingAndGlyphs" >BRCA</text>
<text x="437.50" y="371.64" font-size="9.7" text-anchor="middle" textLength="45.79" lengthAdjust="spacingAndGlyphs" >(SLM = 138)</text>
<line x1="489.60" y1="346.60" x2="489.60" y2="348.80" stroke="#8a8a8a" stroke-width="0.8" />
<text x="489.60" y="361.14" font-size="9.7" text-anchor="middle" textLength="21.35" lengthAdjust="spacingAndGlyphs" >LUAD</text>
<text x="489.60" y="371.64" font-size="9.7" text-anchor="middle" textLength="41.19" lengthAdjust="spacingAndGlyphs" >(SLM = 43)</text>
<line x1="541.20" y1="346.60" x2="541.20" y2="348.80" stroke="#8a8a8a" stroke-width="0.8" />
<text x="541.20" y="361.14" font-size="9.7" text-anchor="middle" textLength="21.35" lengthAdjust="spacingAndGlyphs" >LUSC</text>
<text x="541.20" y="371.64" font-size="9.7" text-anchor="middle" textLength="41.19" lengthAdjust="spacingAndGlyphs" >(SLM = 43)</text>
<line x1="592.90" y1="346.60" x2="592.90" y2="348.80" stroke="#8a8a8a" stroke-width="0.8" />
<text x="592.90" y="361.14" font-size="9.7" text-anchor="middle" textLength="22.24" lengthAdjust="spacingAndGlyphs" >SARC</text>
<text x="592.90" y="371.64" font-size="9.7" text-anchor="middle" textLength="41.19" lengthAdjust="spacingAndGlyphs" >(SLM = 75)</text>
<text x="496.80" y="162.96" font-size="8.9" font-style="italic" text-anchor="middle" textLength="15.93" lengthAdjust="spacingAndGlyphs" >RB1</text>
<text x="470.50" y="177.06" font-size="8.9" textLength="182.50" lengthAdjust="spacingAndGlyphs" >Candidate synthetic lethal genes (effect size):</text>
<circle cx="633.40" cy="183.20" r="2.85" fill="#ee8282" stroke="none" stroke-width="0.6"/>
<circle cx="633.40" cy="198.40" r="4.00" fill="#ff0000" stroke="none" stroke-width="0.6"/>
<circle cx="633.40" cy="213.60" r="4.60" fill="#ff0000" stroke="none" stroke-width="0.6"/>
<text x="641.90" y="186.06" font-size="8.3" textLength="14.50" lengthAdjust="spacingAndGlyphs" >&#8211;0.4</text>
<text x="641.90" y="201.26" font-size="8.3" textLength="14.50" lengthAdjust="spacingAndGlyphs" >&#8211;0.6</text>
<text x="641.90" y="216.46" font-size="8.3" textLength="14.50" lengthAdjust="spacingAndGlyphs" >&#8211;0.8</text>
<text x="0.00" y="397.80" font-size="12" font-weight="bold" textLength="7.60" lengthAdjust="spacingAndGlyphs" >d</text>
<circle cx="61.20" cy="505.20" r="1.65" fill="#ee8282" stroke="none" stroke-width="0.6"/>
<circle cx="68.30" cy="506.40" r="2.75" fill="#ee8282" stroke="none" stroke-width="0.6"/>
<circle cx="78.00" cy="516.80" r="1.32" fill="#ee8282" stroke="none" stroke-width="0.6"/>
<circle cx="58.50" cy="510.70" r="2.53" fill="#ee8282" stroke="none" stroke-width="0.6"/>
<circle cx="51.40" cy="514.60" r="2.75" fill="#ee8282" stroke="none" stroke-width="0.6"/>
<circle cx="56.10" cy="516.20" r="2.75" fill="#ee8282" stroke="none" stroke-width="0.6"/>
<circle cx="49.40" cy="517.00" r="2.53" fill="#ee8282" stroke="none" stroke-width="0.6"/>
<circle cx="60.00" cy="515.40" r="2.20" fill="#ee8282" stroke="none" stroke-width="0.6"/>
<circle cx="53.80" cy="519.30" r="2.42" fill="#ee8282" stroke="none" stroke-width="0.6"/>
<circle cx="58.80" cy="518.50" r="2.42" fill="#ee8282" stroke="none" stroke-width="0.6"/>
<circle cx="55.00" cy="511.50" r="2.20" fill="#ee8282" stroke="none" stroke-width="0.6"/>
<circle cx="48.50" cy="512.50" r="2.20" fill="#ee8282" stroke="none" stroke-width="0.6"/>
<circle cx="60.80" cy="523.20" r="2.75" fill="#ee8282" stroke="none" stroke-width="0.6"/>
<circle cx="63.20" cy="522.40" r="2.20" fill="#ee8282" stroke="none" stroke-width="0.6"/>
<circle cx="53.80" cy="524.80" r="2.75" fill="#ee8282" stroke="none" stroke-width="0.6"/>
<circle cx="50.60" cy="526.30" r="2.53" fill="#ee8282" stroke="none" stroke-width="0.6"/>
<circle cx="57.70" cy="527.10" r="2.53" fill="#ee8282" stroke="none" stroke-width="0.6"/>
<circle cx="61.60" cy="529.50" r="2.75" fill="#ee8282" stroke="none" stroke-width="0.6"/>
<circle cx="67.90" cy="527.10" r="2.75" fill="#ee8282" stroke="none" stroke-width="0.6"/>
<circle cx="71.80" cy="522.40" r="2.75" fill="#ee8282" stroke="none" stroke-width="0.6"/>
<circle cx="74.10" cy="523.20" r="2.42" fill="#ee8282" stroke="none" stroke-width="0.6"/>
<circle cx="77.30" cy="524.40" r="2.20" fill="#ee8282" stroke="none" stroke-width="0.6"/>
<circle cx="73.00" cy="527.90" r="2.75" fill="#ee8282" stroke="none" stroke-width="0.6"/>
<circle cx="78.80" cy="527.90" r="1.98" fill="#ee8282" stroke="none" stroke-width="0.6"/>
<circle cx="64.50" cy="525.50" r="2.20" fill="#ee8282" stroke="none" stroke-width="0.6"/>
<circle cx="47.80" cy="522.00" r="2.20" fill="#ee8282" stroke="none" stroke-width="0.6"/>
<circle cx="53.00" cy="531.80" r="2.75" fill="#ee8282" stroke="none" stroke-width="0.6"/>
<circle cx="57.70" cy="532.60" r="2.75" fill="#ee8282" stroke="none" stroke-width="0.6"/>
<circle cx="62.40" cy="534.20" r="2.75" fill="#ee8282" stroke="none" stroke-width="0.6"/>
<circle cx="65.50" cy="531.80" r="2.42" fill="#ee8282" stroke="none" stroke-width="0.6"/>
<circle cx="69.40" cy="532.60" r="2.75" fill="#ee8282" stroke="none" stroke-width="0.6"/>
<circle cx="73.30" cy="532.60" r="2.75" fill="#ee8282" stroke="none" stroke-width="0.6"/>
<circle cx="75.70" cy="535.80" r="2.75" fill="#ee8282" stroke="none" stroke-width="0.6"/>
<circle cx="53.80" cy="537.30" r="2.75" fill="#ee8282" stroke="none" stroke-width="0.6"/>
<circle cx="57.70" cy="538.90" r="2.75" fill="#ee8282" stroke="none" stroke-width="0.6"/>
<circle cx="60.80" cy="540.50" r="2.53" fill="#ee8282" stroke="none" stroke-width="0.6"/>
<circle cx="52.20" cy="542.00" r="2.53" fill="#ee8282" stroke="none" stroke-width="0.6"/>
<circle cx="56.10" cy="543.60" r="2.53" fill="#ee8282" stroke="none" stroke-width="0.6"/>
<circle cx="60.00" cy="545.20" r="2.53" fill="#ee8282" stroke="none" stroke-width="0.6"/>
<circle cx="74.90" cy="540.50" r="2.75" fill="#ee8282" stroke="none" stroke-width="0.6"/>
<circle cx="78.00" cy="542.00" r="2.20" fill="#ee8282" stroke="none" stroke-width="0.6"/>
<circle cx="78.80" cy="545.20" r="1.98" fill="#ee8282" stroke="none" stroke-width="0.6"/>
<circle cx="63.90" cy="543.60" r="2.20" fill="#ee8282" stroke="none" stroke-width="0.6"/>
<circle cx="66.00" cy="538.00" r="2.42" fill="#ee8282" stroke="none" stroke-width="0.6"/>
<circle cx="71.00" cy="537.00" r="2.42" fill="#ee8282" stroke="none" stroke-width="0.6"/>
<circle cx="48.50" cy="529.00" r="2.20" fill="#ee8282" stroke="none" stroke-width="0.6"/>
<circle cx="52.20" cy="522.00" r="1.60" fill="#f03030" stroke="none" stroke-width="0.6"/>
<circle cx="56.90" cy="522.40" r="1.60" fill="#f03030" stroke="none" stroke-width="0.6"/>
<circle cx="69.00" cy="527.90" r="2.00" fill="#f03030" stroke="none" stroke-width="0.6"/>
<circle cx="76.50" cy="529.10" r="2.00" fill="#f03030" stroke="none" stroke-width="0.6"/>
<circle cx="58.80" cy="545.20" r="2.50" fill="#f03030" stroke="none" stroke-width="0.6"/>
<circle cx="133.40" cy="427.80" r="2.07" fill="#ee8282" stroke="none" stroke-width="0.6"/>
<circle cx="135.50" cy="438.10" r="2.64" fill="#ee8282" stroke="none" stroke-width="0.6"/>
<circle cx="129.40" cy="444.80" r="1.84" fill="#ee8282" stroke="none" stroke-width="0.6"/>
<circle cx="131.20" cy="450.40" r="1.38" fill="#ee8282" stroke="none" stroke-width="0.6"/>
<circle cx="127.40" cy="455.80" r="2.30" fill="#ee8282" stroke="none" stroke-width="0.6"/>
<circle cx="138.90" cy="458.40" r="2.53" fill="#ee8282" stroke="none" stroke-width="0.6"/>
<circle cx="144.90" cy="461.10" r="2.07" fill="#ee8282" stroke="none" stroke-width="0.6"/>
<circle cx="122.80" cy="462.00" r="2.30" fill="#ee8282" stroke="none" stroke-width="0.6"/>
<circle cx="126.10" cy="462.00" r="2.30" fill="#ee8282" stroke="none" stroke-width="0.6"/>
<circle cx="131.10" cy="463.90" r="1.84" fill="#ee8282" stroke="none" stroke-width="0.6"/>
<circle cx="136.60" cy="462.40" r="2.53" fill="#ee8282" stroke="none" stroke-width="0.6"/>
<circle cx="122.80" cy="466.60" r="2.30" fill="#ee8282" stroke="none" stroke-width="0.6"/>
<circle cx="142.90" cy="466.80" r="2.30" fill="#ee8282" stroke="none" stroke-width="0.6"/>
<circle cx="123.00" cy="466.20" r="2.30" fill="#ee8282" stroke="none" stroke-width="0.6"/>
<circle cx="126.10" cy="471.70" r="2.88" fill="#ee8282" stroke="none" stroke-width="0.6"/>
<circle cx="129.60" cy="474.40" r="2.30" fill="#ee8282" stroke="none" stroke-width="0.6"/>
<circle cx="128.10" cy="478.30" r="1.84" fill="#ee8282" stroke="none" stroke-width="0.6"/>
<circle cx="129.20" cy="481.10" r="1.72" fill="#ee8282" stroke="none" stroke-width="0.6"/>
<circle cx="142.60" cy="466.60" r="2.30" fill="#ee8282" stroke="none" stroke-width="0.6"/>
<circle cx="151.20" cy="471.30" r="1.72" fill="#ee8282" stroke="none" stroke-width="0.6"/>
<circle cx="141.40" cy="476.80" r="2.88" fill="#ee8282" stroke="none" stroke-width="0.6"/>
<circle cx="143.00" cy="479.90" r="2.30" fill="#ee8282" stroke="none" stroke-width="0.6"/>
<circle cx="137.10" cy="479.90" r="2.88" fill="#ee8282" stroke="none" stroke-width="0.6"/>
<circle cx="147.70" cy="485.00" r="2.88" fill="#ee8282" stroke="none" stroke-width="0.6"/>
<circle cx="126.50" cy="486.60" r="2.88" fill="#ee8282" stroke="none" stroke-width="0.6"/>
<circle cx="124.50" cy="488.50" r="2.88" fill="#ee8282" stroke="none" stroke-width="0.6"/>
<circle cx="119.80" cy="492.40" r="2.88" fill="#ee8282" stroke="none" stroke-width="0.6"/>
<circle cx="123.80" cy="493.20" r="2.88" fill="#ee8282" stroke="none" stroke-width="0.6"/>
<circle cx="127.30" cy="495.20" r="2.88" fill="#ee8282" stroke="none" stroke-width="0.6"/>
<circle cx="145.70" cy="491.30" r="2.30" fill="#ee8282" stroke="none" stroke-width="0.6"/>
<circle cx="146.50" cy="494.80" r="2.30" fill="#ee8282" stroke="none" stroke-width="0.6"/>
<circle cx="123.80" cy="499.10" r="2.30" fill="#ee8282" stroke="none" stroke-width="0.6"/>
<circle cx="144.90" cy="500.70" r="2.30" fill="#ee8282" stroke="none" stroke-width="0.6"/>
<circle cx="150.80" cy="499.50" r="1.72" fill="#ee8282" stroke="none" stroke-width="0.6"/>
<circle cx="133.20" cy="501.00" r="2.30" fill="#ee8282" stroke="none" stroke-width="0.6"/>
<circle cx="121.40" cy="504.20" r="2.88" fill="#ee8282" stroke="none" stroke-width="0.6"/>
<circle cx="119.80" cy="508.90" r="2.88" fill="#ee8282" stroke="none" stroke-width="0.6"/>
<circle cx="123.80" cy="508.90" r="2.88" fill="#ee8282" stroke="none" stroke-width="0.6"/>
<circle cx="123.00" cy="512.80" r="2.88" fill="#ee8282" stroke="none" stroke-width="0.6"/>
<circle cx="126.90" cy="515.20" r="2.88" fill="#ee8282" stroke="none" stroke-width="0.6"/>
<circle cx="129.20" cy="512.80" r="1.72" fill="#ee8282" stroke="none" stroke-width="0.6"/>
<circle cx="133.20" cy="505.80" r="2.88" fill="#ee8282" stroke="none" stroke-width="0.6"/>
<circle cx="135.50" cy="508.90" r="2.88" fill="#ee8282" stroke="none" stroke-width="0.6"/>
<circle cx="137.90" cy="512.00" r="2.88" fill="#ee8282" stroke="none" stroke-width="0.6"/>
<circle cx="132.80" cy="517.50" r="1.72" fill="#ee8282" stroke="none" stroke-width="0.6"/>
<circle cx="119.80" cy="516.70" r="1.72" fill="#ee8282" stroke="none" stroke-width="0.6"/>
<circle cx="123.80" cy="520.30" r="1.72" fill="#ee8282" stroke="none" stroke-width="0.6"/>
<circle cx="119.10" cy="522.20" r="2.07" fill="#ee8282" stroke="none" stroke-width="0.6"/>
<circle cx="128.80" cy="521.00" r="1.72" fill="#ee8282" stroke="none" stroke-width="0.6"/>
<circle cx="137.10" cy="519.90" r="2.88" fill="#ee8282" stroke="none" stroke-width="0.6"/>
<circle cx="139.00" cy="521.40" r="2.88" fill="#ee8282" stroke="none" stroke-width="0.6"/>
<circle cx="149.60" cy="517.50" r="2.07" fill="#ee8282" stroke="none" stroke-width="0.6"/>
<circle cx="149.60" cy="521.40" r="2.88" fill="#ee8282" stroke="none" stroke-width="0.6"/>
<circle cx="144.10" cy="501.00" r="2.30" fill="#ee8282" stroke="none" stroke-width="0.6"/>
<circle cx="121.50" cy="496.50" r="2.53" fill="#ee8282" stroke="none" stroke-width="0.6"/>
<circle cx="126.00" cy="502.00" r="2.30" fill="#ee8282" stroke="none" stroke-width="0.6"/>
<circle cx="141.00" cy="484.00" r="2.30" fill="#ee8282" stroke="none" stroke-width="0.6"/>
<circle cx="131.00" cy="487.00" r="2.30" fill="#ee8282" stroke="none" stroke-width="0.6"/>
<circle cx="139.00" cy="506.00" r="2.30" fill="#ee8282" stroke="none" stroke-width="0.6"/>
<circle cx="117.50" cy="500.50" r="2.07" fill="#ee8282" stroke="none" stroke-width="0.6"/>
<circle cx="146.00" cy="514.00" r="2.30" fill="#ee8282" stroke="none" stroke-width="0.6"/>
<circle cx="128.00" cy="508.00" r="2.30" fill="#ee8282" stroke="none" stroke-width="0.6"/>
<line x1="64.90" y1="557.60" x2="64.90" y2="565.70" stroke="#7a7a7a" stroke-width="0.8" />
<line x1="64.90" y1="535.70" x2="64.90" y2="502.40" stroke="#7a7a7a" stroke-width="0.8" />
<rect x="58.40" y="535.70" width="12.90" height="21.90" fill="none" stroke="#7a7a7a" stroke-width="0.8" />
<line x1="58.40" y1="548.10" x2="71.30" y2="548.10" stroke="#2a2a2a" stroke-width="1.1" />
<line x1="135.30" y1="550.50" x2="135.30" y2="565.60" stroke="#7a7a7a" stroke-width="0.8" />
<line x1="135.30" y1="502.50" x2="135.30" y2="431.00" stroke="#7a7a7a" stroke-width="0.8" />
<rect x="129.30" y="502.50" width="12.70" height="48.00" fill="none" stroke="#7a7a7a" stroke-width="0.8" />
<line x1="129.30" y1="531.00" x2="142.00" y2="531.00" stroke="#2a2a2a" stroke-width="1.1" />
<line x1="64.90" y1="483.70" x2="64.90" y2="502.40" stroke="#000" stroke-width="1.2" />
<circle cx="135.30" cy="422.30" r="0.60" fill="#000" stroke="none" stroke-width="0.6"/>
<line x1="135.30" y1="409.30" x2="135.30" y2="421.00" stroke="#000" stroke-width="1.2" stroke-dasharray="1.1 1.0"/>
<line x1="135.30" y1="425.30" x2="135.30" y2="431.80" stroke="#000" stroke-width="1.2" />
<circle cx="52.80" cy="506.70" r="3.60" fill="#ff0000" stroke="#000" stroke-width="0.7"/>
<circle cx="65.80" cy="514.20" r="3.00" fill="#ff0000" stroke="none" stroke-width="0.6"/>
<circle cx="66.70" cy="518.50" r="1.50" fill="#ee8282" stroke="#111" stroke-width="0.65"/>
<circle cx="72.50" cy="510.40" r="1.50" fill="#ee8282" stroke="#111" stroke-width="0.65"/>
<circle cx="79.50" cy="532.40" r="1.80" fill="#ee8282" stroke="#111" stroke-width="0.65"/>
<circle cx="68.60" cy="544.30" r="4.00" fill="#ff0000" stroke="#000" stroke-width="0.7"/>
<circle cx="50.60" cy="535.70" r="3.00" fill="#ff0000" stroke="none" stroke-width="0.6"/>
<circle cx="49.90" cy="538.40" r="1.50" fill="#ee8282" stroke="#111" stroke-width="0.65"/>
<circle cx="124.20" cy="437.40" r="3.20" fill="#ff0000" stroke="none" stroke-width="0.6"/>
<circle cx="128.10" cy="437.00" r="3.80" fill="#ff0000" stroke="none" stroke-width="0.6"/>
<circle cx="120.00" cy="432.20" r="3.90" fill="#ff0000" stroke="#000" stroke-width="0.7"/>
<circle cx="126.80" cy="448.80" r="1.50" fill="#ee8282" stroke="#111" stroke-width="0.65"/>
<circle cx="136.80" cy="454.20" r="3.00" fill="#ff0000" stroke="none" stroke-width="0.6"/>
<circle cx="128.50" cy="471.30" r="3.00" fill="#ff0000" stroke="none" stroke-width="0.6"/>
<circle cx="146.50" cy="471.90" r="3.50" fill="#ff0000" stroke="none" stroke-width="0.6"/>
<circle cx="121.20" cy="472.20" r="1.50" fill="#ee8282" stroke="#111" stroke-width="0.65"/>
<circle cx="139.00" cy="475.20" r="2.70" fill="#ff0000" stroke="none" stroke-width="0.6"/>
<circle cx="134.30" cy="482.90" r="3.30" fill="#ff0000" stroke="none" stroke-width="0.6"/>
<circle cx="120.80" cy="486.00" r="1.50" fill="#ee8282" stroke="#111" stroke-width="0.65"/>
<circle cx="118.30" cy="490.90" r="2.80" fill="#ff0000" stroke="none" stroke-width="0.6"/>
<circle cx="131.60" cy="495.20" r="3.00" fill="#ff0000" stroke="none" stroke-width="0.6"/>
<circle cx="139.00" cy="492.00" r="3.00" fill="#ff0000" stroke="none" stroke-width="0.6"/>
<circle cx="139.40" cy="497.90" r="2.50" fill="#ff0000" stroke="none" stroke-width="0.6"/>
<circle cx="149.60" cy="509.80" r="2.50" fill="#ff0000" stroke="none" stroke-width="0.6"/>
<circle cx="144.10" cy="510.60" r="4.30" fill="#ff0000" stroke="#000" stroke-width="0.7"/>
<text x="45.00" y="474.16" font-size="8.9" font-style="italic" textLength="23.70" lengthAdjust="spacingAndGlyphs" >ITGB5</text>
<line x1="52.50" y1="475.50" x2="52.70" y2="503.00" stroke="#231f20" stroke-width="0.5" />
<text x="77.60" y="427.86" font-size="8.9" font-style="italic" textLength="29.40" lengthAdjust="spacingAndGlyphs" >FERMT2</text>
<line x1="111.50" y1="427.50" x2="118.00" y2="430.50" stroke="#231f20" stroke-width="0.5" />
<text x="89.60" y="446.86" font-size="8.9" font-style="italic" textLength="28.90" lengthAdjust="spacingAndGlyphs" >TWIST2</text>
<line x1="121.00" y1="446.00" x2="125.50" y2="448.00" stroke="#231f20" stroke-width="0.5" />
<text x="84.80" y="466.06" font-size="8.9" font-style="italic" textLength="29.70" lengthAdjust="spacingAndGlyphs" >TSPAN4</text>
<line x1="116.00" y1="466.00" x2="120.30" y2="471.20" stroke="#231f20" stroke-width="0.5" />
<text x="101.50" y="477.36" font-size="8.9" font-style="italic" textLength="14.50" lengthAdjust="spacingAndGlyphs" >VIM</text>
<line x1="116.50" y1="478.00" x2="120.00" y2="484.50" stroke="#231f20" stroke-width="0.5" />
<text x="69.40" y="487.06" font-size="8.9" font-style="italic" textLength="28.60" lengthAdjust="spacingAndGlyphs" >TWIST2</text>
<line x1="72.50" y1="488.00" x2="67.20" y2="517.00" stroke="#231f20" stroke-width="0.5" />
<text x="78.40" y="497.76" font-size="8.9" font-style="italic" textLength="30.10" lengthAdjust="spacingAndGlyphs" >TSPAN4</text>
<line x1="83.00" y1="498.50" x2="73.20" y2="509.60" stroke="#231f20" stroke-width="0.5" />
<text x="79.60" y="517.26" font-size="8.9" font-style="italic" textLength="28.40" lengthAdjust="spacingAndGlyphs" >TWIST1</text>
<line x1="84.00" y1="518.50" x2="80.00" y2="530.60" stroke="#231f20" stroke-width="0.5" />
<text x="81.60" y="554.96" font-size="8.9" font-style="italic" textLength="31.90" lengthAdjust="spacingAndGlyphs" >FERMT2</text>
<line x1="80.50" y1="551.00" x2="71.50" y2="546.50" stroke="#231f20" stroke-width="0.5" />
<text x="44.70" y="563.66" font-size="8.9" font-style="italic" textLength="14.10" lengthAdjust="spacingAndGlyphs" >VIM</text>
<line x1="49.00" y1="555.50" x2="49.90" y2="540.00" stroke="#231f20" stroke-width="0.5" />
<text x="160.50" y="498.86" font-size="8.9" font-style="italic" textLength="25.20" lengthAdjust="spacingAndGlyphs" >ITGAV</text>
<line x1="161.00" y1="499.00" x2="146.50" y2="508.50" stroke="#231f20" stroke-width="0.5" />
<rect x="41.40" y="402.00" width="165.80" height="171.00" fill="none" stroke="#8a8a8a" stroke-width="0.8" />
<line x1="38.20" y1="565.50" x2="41.40" y2="565.50" stroke="#8a8a8a" stroke-width="0.8" />
<text x="34.80" y="568.25" font-size="8.0" text-anchor="end" textLength="4.09" lengthAdjust="spacingAndGlyphs" >0</text>
<line x1="38.20" y1="523.50" x2="41.40" y2="523.50" stroke="#8a8a8a" stroke-width="0.8" />
<text x="34.80" y="526.25" font-size="8.0" text-anchor="end" textLength="10.23" lengthAdjust="spacingAndGlyphs" >0.5</text>
<line x1="38.20" y1="481.50" x2="41.40" y2="481.50" stroke="#8a8a8a" stroke-width="0.8" />
<text x="34.80" y="484.25" font-size="8.0" text-anchor="end" textLength="10.23" lengthAdjust="spacingAndGlyphs" >1.0</text>
<line x1="38.20" y1="439.50" x2="41.40" y2="439.50" stroke="#8a8a8a" stroke-width="0.8" />
<text x="34.80" y="442.25" font-size="8.0" text-anchor="end" textLength="10.23" lengthAdjust="spacingAndGlyphs" >1.5</text>
<text x="17.90" y="482.40" font-size="8.6" text-anchor="middle" textLength="134.10" lengthAdjust="spacingAndGlyphs" transform="rotate(-90 17.90 482.40)" >Hyperexpressed genes (effect size)</text>
<line x1="64.90" y1="573.00" x2="64.90" y2="575.20" stroke="#8a8a8a" stroke-width="0.8" />
<text x="64.90" y="587.94" font-size="9.7" text-anchor="middle" textLength="22.24" lengthAdjust="spacingAndGlyphs" >BRCA</text>
<text x="64.90" y="597.94" font-size="9.7" text-anchor="middle" textLength="44.26" lengthAdjust="spacingAndGlyphs" >(SLM = 122)</text>
<line x1="135.30" y1="573.00" x2="135.30" y2="575.20" stroke="#8a8a8a" stroke-width="0.8" />
<text x="135.30" y="587.94" font-size="9.7" text-anchor="middle" textLength="20.75" lengthAdjust="spacingAndGlyphs" >STAD</text>
<text x="135.30" y="597.94" font-size="9.7" text-anchor="middle" textLength="43.67" lengthAdjust="spacingAndGlyphs" >(SLM = 112)</text>
<text x="115.20" y="396.46" font-size="8.9" font-style="italic" text-anchor="middle" textLength="22.29" lengthAdjust="spacingAndGlyphs" >CDH1</text>
<text x="70.60" y="411.66" font-size="8.9" textLength="132.60" lengthAdjust="spacingAndGlyphs" >Candidate synthetic lethal genes</text>
<text x="154.50" y="421.66" font-size="8.9" textLength="48.70" lengthAdjust="spacingAndGlyphs" >(effect size):</text>
<circle cx="177.90" cy="430.60" r="3.10" fill="#ee8282" stroke="none" stroke-width="0.6"/>
<circle cx="177.90" cy="448.30" r="3.90" fill="#ff0000" stroke="none" stroke-width="0.6"/>
<circle cx="177.90" cy="466.20" r="4.60" fill="#ff0000" stroke="none" stroke-width="0.6"/>
<text x="185.60" y="433.46" font-size="8.3" textLength="19.00" lengthAdjust="spacingAndGlyphs" >&#8211;0.50</text>
<text x="185.60" y="451.16" font-size="8.3" textLength="19.00" lengthAdjust="spacingAndGlyphs" >&#8211;0.75</text>
<text x="185.60" y="469.06" font-size="8.3" textLength="19.00" lengthAdjust="spacingAndGlyphs" >&#8211;1.00</text>
<text x="241.80" y="397.70" font-size="12" font-weight="bold" textLength="7.00" lengthAdjust="spacingAndGlyphs" >e</text>
<circle cx="282.50" cy="547.00" r="3.20" fill="#ee8282" stroke="none" stroke-width="0.6"/>
<circle cx="285.50" cy="545.00" r="3.20" fill="#ee8282" stroke="none" stroke-width="0.6"/>
<circle cx="288.50" cy="543.00" r="3.00" fill="#ee8282" stroke="none" stroke-width="0.6"/>
<circle cx="287.00" cy="549.00" r="3.20" fill="#ee8282" stroke="none" stroke-width="0.6"/>
<circle cx="283.00" cy="551.00" r="2.80" fill="#ee8282" stroke="none" stroke-width="0.6"/>
<circle cx="290.50" cy="547.50" r="2.80" fill="#ee8282" stroke="none" stroke-width="0.6"/>
<circle cx="293.90" cy="549.60" r="3.40" fill="#ee8282" stroke="none" stroke-width="0.6"/>
<circle cx="294.50" cy="546.00" r="2.50" fill="#ee8282" stroke="none" stroke-width="0.6"/>
<circle cx="298.50" cy="546.00" r="3.00" fill="#ee8282" stroke="none" stroke-width="0.6"/>
<circle cx="300.90" cy="544.30" r="3.20" fill="#ee8282" stroke="none" stroke-width="0.6"/>
<circle cx="300.30" cy="538.50" r="2.20" fill="#ee8282" stroke="none" stroke-width="0.6"/>
<circle cx="301.50" cy="549.00" r="2.50" fill="#ee8282" stroke="none" stroke-width="0.6"/>
<circle cx="297.50" cy="551.00" r="2.60" fill="#ee8282" stroke="none" stroke-width="0.6"/>
<circle cx="289.50" cy="552.00" r="2.50" fill="#ee8282" stroke="none" stroke-width="0.6"/>
<circle cx="295.90" cy="534.10" r="2.00" fill="#ee8282" stroke="none" stroke-width="0.6"/>
<circle cx="292.00" cy="541.50" r="2.20" fill="#ee8282" stroke="none" stroke-width="0.6"/>
<circle cx="280.80" cy="549.50" r="2.40" fill="#ee8282" stroke="none" stroke-width="0.6"/>
<circle cx="285.00" cy="552.50" r="2.20" fill="#ee8282" stroke="none" stroke-width="0.6"/>
<circle cx="326.20" cy="531.20" r="2.40" fill="#ee8282" stroke="none" stroke-width="0.6"/>
<circle cx="327.40" cy="538.10" r="2.00" fill="#ee8282" stroke="none" stroke-width="0.6"/>
<circle cx="329.70" cy="540.40" r="1.30" fill="#ee8282" stroke="none" stroke-width="0.6"/>
<circle cx="339.80" cy="530.40" r="2.00" fill="#ee8282" stroke="none" stroke-width="0.6"/>
<circle cx="338.80" cy="534.70" r="1.30" fill="#ee8282" stroke="none" stroke-width="0.6"/>
<circle cx="336.90" cy="537.40" r="1.50" fill="#ee8282" stroke="none" stroke-width="0.6"/>
<circle cx="338.80" cy="540.90" r="2.50" fill="#ee8282" stroke="none" stroke-width="0.6"/>
<circle cx="341.30" cy="539.90" r="2.50" fill="#ee8282" stroke="none" stroke-width="0.6"/>
<circle cx="344.30" cy="539.60" r="2.50" fill="#ee8282" stroke="none" stroke-width="0.6"/>
<circle cx="343.30" cy="541.40" r="2.20" fill="#ee8282" stroke="none" stroke-width="0.6"/>
<circle cx="339.80" cy="542.10" r="2.00" fill="#ee8282" stroke="none" stroke-width="0.6"/>
<circle cx="328.50" cy="536.00" r="2.20" fill="#ee8282" stroke="none" stroke-width="0.6"/>
<circle cx="378.20" cy="529.10" r="3.00" fill="#ee8282" stroke="none" stroke-width="0.6"/>
<circle cx="381.20" cy="530.60" r="3.00" fill="#ee8282" stroke="none" stroke-width="0.6"/>
<circle cx="379.40" cy="533.80" r="3.00" fill="#ee8282" stroke="none" stroke-width="0.6"/>
<circle cx="381.60" cy="533.10" r="2.50" fill="#ee8282" stroke="none" stroke-width="0.6"/>
<circle cx="377.20" cy="532.30" r="2.50" fill="#ee8282" stroke="none" stroke-width="0.6"/>
<circle cx="378.20" cy="528.70" r="2.50" fill="#ee8282" stroke="none" stroke-width="0.6"/>
<circle cx="373.20" cy="508.30" r="2.50" fill="#ee8282" stroke="none" stroke-width="0.6"/>
<circle cx="373.50" cy="497.10" r="1.30" fill="#ee8282" stroke="none" stroke-width="0.6"/>
<circle cx="414.50" cy="480.20" r="2.50" fill="#ee8282" stroke="none" stroke-width="0.6"/>
<circle cx="419.30" cy="495.50" r="2.80" fill="#ee8282" stroke="none" stroke-width="0.6"/>
<circle cx="424.00" cy="511.90" r="3.00" fill="#ee8282" stroke="none" stroke-width="0.6"/>
<circle cx="413.00" cy="506.80" r="2.00" fill="#ee8282" stroke="none" stroke-width="0.6"/>
<circle cx="408.60" cy="510.40" r="2.00" fill="#ee8282" stroke="none" stroke-width="0.6"/>
<circle cx="413.70" cy="514.80" r="3.00" fill="#ee8282" stroke="none" stroke-width="0.6"/>
<circle cx="420.30" cy="521.40" r="2.50" fill="#ee8282" stroke="none" stroke-width="0.6"/>
<circle cx="409.80" cy="521.80" r="1.50" fill="#ee8282" stroke="none" stroke-width="0.6"/>
<circle cx="417.00" cy="518.00" r="2.20" fill="#ee8282" stroke="none" stroke-width="0.6"/>
<circle cx="413.00" cy="529.40" r="3.00" fill="#ee8282" stroke="none" stroke-width="0.6"/>
<circle cx="416.60" cy="528.70" r="3.00" fill="#ee8282" stroke="none" stroke-width="0.6"/>
<circle cx="421.00" cy="530.10" r="3.00" fill="#ee8282" stroke="none" stroke-width="0.6"/>
<circle cx="411.50" cy="533.80" r="3.00" fill="#ee8282" stroke="none" stroke-width="0.6"/>
<circle cx="415.90" cy="533.80" r="3.00" fill="#ee8282" stroke="none" stroke-width="0.6"/>
<circle cx="421.80" cy="534.50" r="2.50" fill="#ee8282" stroke="none" stroke-width="0.6"/>
<circle cx="413.70" cy="537.40" r="2.50" fill="#ee8282" stroke="none" stroke-width="0.6"/>
<circle cx="418.80" cy="536.70" r="2.50" fill="#ee8282" stroke="none" stroke-width="0.6"/>
<circle cx="410.80" cy="530.90" r="2.50" fill="#ee8282" stroke="none" stroke-width="0.6"/>
<circle cx="424.00" cy="532.30" r="2.20" fill="#ee8282" stroke="none" stroke-width="0.6"/>
<circle cx="418.50" cy="532.00" r="2.50" fill="#ee8282" stroke="none" stroke-width="0.6"/>
<circle cx="451.50" cy="526.50" r="2.50" fill="#ee8282" stroke="none" stroke-width="0.6"/>
<circle cx="454.70" cy="530.70" r="2.00" fill="#ee8282" stroke="none" stroke-width="0.6"/>
<circle cx="452.00" cy="529.00" r="2.00" fill="#ee8282" stroke="none" stroke-width="0.6"/>
<circle cx="498.88" cy="533.47" r="2.64" fill="#ee8282" stroke="none" stroke-width="0.6"/>
<circle cx="491.95" cy="528.84" r="2.53" fill="#ee8282" stroke="none" stroke-width="0.6"/>
<circle cx="493.32" cy="534.10" r="2.03" fill="#ee8282" stroke="none" stroke-width="0.6"/>
<circle cx="491.29" cy="539.20" r="2.51" fill="#ee8282" stroke="none" stroke-width="0.6"/>
<circle cx="497.69" cy="539.68" r="2.43" fill="#ee8282" stroke="none" stroke-width="0.6"/>
<circle cx="498.84" cy="538.16" r="2.75" fill="#ee8282" stroke="none" stroke-width="0.6"/>
<circle cx="504.56" cy="532.26" r="2.91" fill="#ee8282" stroke="none" stroke-width="0.6"/>
<circle cx="495.53" cy="536.44" r="2.79" fill="#ee8282" stroke="none" stroke-width="0.6"/>
<circle cx="494.72" cy="526.71" r="2.57" fill="#ee8282" stroke="none" stroke-width="0.6"/>
<circle cx="500.77" cy="536.81" r="2.54" fill="#ee8282" stroke="none" stroke-width="0.6"/>
<circle cx="499.64" cy="528.64" r="2.21" fill="#ee8282" stroke="none" stroke-width="0.6"/>
<circle cx="494.85" cy="541.32" r="2.23" fill="#ee8282" stroke="none" stroke-width="0.6"/>
<circle cx="498.59" cy="541.41" r="2.40" fill="#ee8282" stroke="none" stroke-width="0.6"/>
<circle cx="495.54" cy="530.77" r="2.37" fill="#ee8282" stroke="none" stroke-width="0.6"/>
<circle cx="501.66" cy="535.98" r="2.31" fill="#ee8282" stroke="none" stroke-width="0.6"/>
<circle cx="491.61" cy="540.68" r="2.85" fill="#ee8282" stroke="none" stroke-width="0.6"/>
<circle cx="502.43" cy="529.76" r="2.65" fill="#ee8282" stroke="none" stroke-width="0.6"/>
<circle cx="503.78" cy="536.85" r="3.13" fill="#ee8282" stroke="none" stroke-width="0.6"/>
<circle cx="490.84" cy="533.32" r="2.03" fill="#ee8282" stroke="none" stroke-width="0.6"/>
<circle cx="502.14" cy="538.74" r="3.17" fill="#ee8282" stroke="none" stroke-width="0.6"/>
<circle cx="498.08" cy="544.76" r="2.90" fill="#ee8282" stroke="none" stroke-width="0.6"/>
<circle cx="495.19" cy="544.49" r="2.45" fill="#ee8282" stroke="none" stroke-width="0.6"/>
<circle cx="507.20" cy="534.60" r="1.80" fill="#ee8282" stroke="none" stroke-width="0.6"/>
<circle cx="503.00" cy="545.00" r="2.40" fill="#ee8282" stroke="none" stroke-width="0.6"/>
<circle cx="493.00" cy="541.00" r="2.20" fill="#ee8282" stroke="none" stroke-width="0.6"/>
<circle cx="536.52" cy="532.27" r="3.03" fill="#ee8282" stroke="none" stroke-width="0.6"/>
<circle cx="531.45" cy="535.26" r="2.19" fill="#ee8282" stroke="none" stroke-width="0.6"/>
<circle cx="537.61" cy="537.82" r="2.28" fill="#ee8282" stroke="none" stroke-width="0.6"/>
<circle cx="535.90" cy="538.61" r="2.49" fill="#ee8282" stroke="none" stroke-width="0.6"/>
<circle cx="534.80" cy="538.53" r="2.90" fill="#ee8282" stroke="none" stroke-width="0.6"/>
<circle cx="542.53" cy="536.69" r="2.45" fill="#ee8282" stroke="none" stroke-width="0.6"/>
<circle cx="539.70" cy="537.97" r="2.70" fill="#ee8282" stroke="none" stroke-width="0.6"/>
<circle cx="533.34" cy="533.16" r="2.45" fill="#ee8282" stroke="none" stroke-width="0.6"/>
<circle cx="540.80" cy="535.51" r="2.60" fill="#ee8282" stroke="none" stroke-width="0.6"/>
<circle cx="538.84" cy="533.49" r="2.62" fill="#ee8282" stroke="none" stroke-width="0.6"/>
<circle cx="541.69" cy="532.74" r="3.05" fill="#ee8282" stroke="none" stroke-width="0.6"/>
<circle cx="531.10" cy="535.56" r="2.60" fill="#ee8282" stroke="none" stroke-width="0.6"/>
<circle cx="544.10" cy="526.00" r="1.30" fill="#ee8282" stroke="none" stroke-width="0.6"/>
<circle cx="574.90" cy="537.00" r="2.20" fill="#ee8282" stroke="none" stroke-width="0.6"/>
<circle cx="578.50" cy="535.10" r="2.20" fill="#ee8282" stroke="none" stroke-width="0.6"/>
<circle cx="626.80" cy="496.80" r="3.50" fill="#ee8282" stroke="none" stroke-width="0.6"/>
<circle cx="629.50" cy="497.50" r="3.00" fill="#ee8282" stroke="none" stroke-width="0.6"/>
<circle cx="632.50" cy="498.50" r="2.20" fill="#ee8282" stroke="none" stroke-width="0.6"/>
<circle cx="633.00" cy="504.00" r="2.00" fill="#ee8282" stroke="none" stroke-width="0.6"/>
<circle cx="622.80" cy="508.00" r="2.60" fill="#ee8282" stroke="none" stroke-width="0.6"/>
<circle cx="627.00" cy="509.30" r="2.10" fill="#ee8282" stroke="none" stroke-width="0.6"/>
<circle cx="616.40" cy="514.10" r="2.00" fill="#ee8282" stroke="none" stroke-width="0.6"/>
<line x1="293.00" y1="560.30" x2="293.00" y2="564.90" stroke="#7a7a7a" stroke-width="0.8" />
<line x1="293.00" y1="548.10" x2="293.00" y2="530.70" stroke="#7a7a7a" stroke-width="0.8" />
<rect x="286.30" y="548.10" width="13.50" height="12.20" fill="none" stroke="#7a7a7a" stroke-width="0.8" />
<line x1="286.30" y1="555.00" x2="299.80" y2="555.00" stroke="#2a2a2a" stroke-width="1.1" />
<line x1="334.80" y1="558.30" x2="334.80" y2="564.90" stroke="#7a7a7a" stroke-width="0.8" />
<line x1="334.80" y1="543.20" x2="334.80" y2="520.20" stroke="#7a7a7a" stroke-width="0.8" />
<rect x="328.10" y="543.20" width="13.40" height="15.10" fill="none" stroke="#7a7a7a" stroke-width="0.8" />
<line x1="328.10" y1="551.50" x2="341.50" y2="551.50" stroke="#2a2a2a" stroke-width="1.1" />
<line x1="375.90" y1="557.90" x2="375.90" y2="564.50" stroke="#7a7a7a" stroke-width="0.8" />
<line x1="375.90" y1="539.30" x2="375.90" y2="510.00" stroke="#7a7a7a" stroke-width="0.8" />
<rect x="369.20" y="539.30" width="13.40" height="18.60" fill="none" stroke="#7a7a7a" stroke-width="0.8" />
<line x1="369.20" y1="549.90" x2="382.60" y2="549.90" stroke="#2a2a2a" stroke-width="1.1" />
<line x1="417.40" y1="555.40" x2="417.40" y2="564.50" stroke="#7a7a7a" stroke-width="0.8" />
<line x1="417.40" y1="530.90" x2="417.40" y2="494.00" stroke="#7a7a7a" stroke-width="0.8" />
<rect x="410.40" y="530.90" width="14.00" height="24.50" fill="none" stroke="#7a7a7a" stroke-width="0.8" />
<line x1="410.40" y1="544.30" x2="424.40" y2="544.30" stroke="#2a2a2a" stroke-width="1.1" />
<line x1="458.70" y1="558.30" x2="458.70" y2="563.80" stroke="#7a7a7a" stroke-width="0.8" />
<line x1="458.70" y1="541.50" x2="458.70" y2="516.60" stroke="#7a7a7a" stroke-width="0.8" />
<rect x="452.30" y="541.50" width="12.80" height="16.80" fill="none" stroke="#7a7a7a" stroke-width="0.8" />
<line x1="452.30" y1="551.10" x2="465.10" y2="551.10" stroke="#2a2a2a" stroke-width="1.1" />
<line x1="500.20" y1="559.10" x2="500.20" y2="563.80" stroke="#7a7a7a" stroke-width="0.8" />
<line x1="500.20" y1="545.50" x2="500.20" y2="525.40" stroke="#7a7a7a" stroke-width="0.8" />
<rect x="493.70" y="545.50" width="12.90" height="13.60" fill="none" stroke="#7a7a7a" stroke-width="0.8" />
<line x1="493.70" y1="553.20" x2="506.60" y2="553.20" stroke="#2a2a2a" stroke-width="1.1" />
<line x1="541.70" y1="560.40" x2="541.70" y2="565.00" stroke="#7a7a7a" stroke-width="0.8" />
<line x1="541.70" y1="547.90" x2="541.70" y2="535.10" stroke="#7a7a7a" stroke-width="0.8" />
<rect x="535.00" y="547.90" width="13.40" height="12.50" fill="none" stroke="#7a7a7a" stroke-width="0.8" />
<line x1="535.00" y1="554.30" x2="548.40" y2="554.30" stroke="#2a2a2a" stroke-width="1.1" />
<line x1="582.90" y1="561.10" x2="582.90" y2="564.60" stroke="#7a7a7a" stroke-width="0.8" />
<line x1="582.90" y1="552.00" x2="582.90" y2="537.90" stroke="#7a7a7a" stroke-width="0.8" />
<rect x="576.30" y="552.00" width="13.20" height="9.10" fill="none" stroke="#7a7a7a" stroke-width="0.8" />
<line x1="576.30" y1="557.40" x2="589.50" y2="557.40" stroke="#2a2a2a" stroke-width="1.1" />
<line x1="624.60" y1="552.00" x2="624.60" y2="564.70" stroke="#7a7a7a" stroke-width="0.8" />
<line x1="624.60" y1="523.20" x2="624.60" y2="478.40" stroke="#7a7a7a" stroke-width="0.8" />
<rect x="617.90" y="523.20" width="13.30" height="28.80" fill="none" stroke="#7a7a7a" stroke-width="0.8" />
<line x1="617.90" y1="539.30" x2="631.20" y2="539.30" stroke="#2a2a2a" stroke-width="1.1" />
<circle cx="278.10" cy="543.60" r="1.80" fill="#ee8282" stroke="#111" stroke-width="0.65"/>
<circle cx="284.10" cy="536.00" r="2.80" fill="#ee8282" stroke="#111" stroke-width="0.65"/>
<circle cx="296.10" cy="539.30" r="2.20" fill="#ee8282" stroke="#111" stroke-width="0.65"/>
<circle cx="307.00" cy="539.70" r="3.20" fill="#ee8282" stroke="#111" stroke-width="0.65"/>
<circle cx="307.40" cy="547.80" r="2.40" fill="#ee8282" stroke="#111" stroke-width="0.65"/>
<circle cx="331.80" cy="534.70" r="3.20" fill="#ee8282" stroke="#111" stroke-width="0.65"/>
<circle cx="367.40" cy="510.40" r="3.20" fill="#ee8282" stroke="#111" stroke-width="0.65"/>
<circle cx="376.50" cy="511.90" r="3.80" fill="#ee8282" stroke="#111" stroke-width="0.65"/>
<circle cx="379.10" cy="522.10" r="1.80" fill="#ee8282" stroke="#111" stroke-width="0.65"/>
<circle cx="369.90" cy="519.20" r="2.50" fill="#ee8282" stroke="#111" stroke-width="0.65"/>
<circle cx="370.40" cy="524.30" r="3.50" fill="#ee8282" stroke="#111" stroke-width="0.65"/>
<circle cx="420.30" cy="510.10" r="3.20" fill="#ee8282" stroke="#111" stroke-width="0.65"/>
<circle cx="414.20" cy="522.40" r="1.50" fill="#ee8282" stroke="#111" stroke-width="0.65"/>
<circle cx="453.90" cy="521.10" r="1.80" fill="#ee8282" stroke="#111" stroke-width="0.65"/>
<circle cx="465.10" cy="516.90" r="2.50" fill="#ee8282" stroke="#111" stroke-width="0.65"/>
<circle cx="461.10" cy="522.20" r="1.30" fill="#ee8282" stroke="#111" stroke-width="0.65"/>
<circle cx="495.70" cy="535.00" r="3.30" fill="#ee8282" stroke="#111" stroke-width="0.65"/>
<circle cx="490.00" cy="535.00" r="2.20" fill="#ee8282" stroke="#111" stroke-width="0.65"/>
<circle cx="511.40" cy="540.70" r="3.20" fill="#ee8282" stroke="#111" stroke-width="0.65"/>
<circle cx="488.40" cy="547.90" r="3.80" fill="#ee8282" stroke="#111" stroke-width="0.65"/>
<circle cx="497.00" cy="543.10" r="1.30" fill="#ee8282" stroke="#111" stroke-width="0.65"/>
<circle cx="499.20" cy="548.70" r="1.50" fill="#ee8282" stroke="#111" stroke-width="0.65"/>
<circle cx="537.40" cy="517.70" r="2.80" fill="#ee8282" stroke="#111" stroke-width="0.65"/>
<circle cx="542.90" cy="533.70" r="3.20" fill="#ee8282" stroke="#111" stroke-width="0.65"/>
<circle cx="550.20" cy="538.40" r="3.50" fill="#ee8282" stroke="#111" stroke-width="0.65"/>
<circle cx="586.80" cy="536.00" r="2.80" fill="#ee8282" stroke="#111" stroke-width="0.65"/>
<circle cx="619.70" cy="475.70" r="1.80" fill="#ee8282" stroke="#111" stroke-width="0.65"/>
<circle cx="617.90" cy="496.30" r="3.30" fill="#ee8282" stroke="#111" stroke-width="0.65"/>
<line x1="293.00" y1="522.90" x2="293.00" y2="530.70" stroke="#000" stroke-width="1.3" />
<circle cx="334.80" cy="501.20" r="0.60" fill="#000" stroke="none" stroke-width="0.6"/>
<line x1="334.80" y1="506.40" x2="334.80" y2="520.20" stroke="#000" stroke-width="1.3" />
<circle cx="375.90" cy="477.00" r="0.60" fill="#000" stroke="none" stroke-width="0.6"/>
<line x1="375.90" y1="488.30" x2="375.90" y2="500.00" stroke="#000" stroke-width="1.3" stroke-dasharray="1.1 1.0"/>
<line x1="375.90" y1="500.00" x2="375.90" y2="510.00" stroke="#000" stroke-width="1.3" />
<circle cx="417.40" cy="432.80" r="0.60" fill="#000" stroke="none" stroke-width="0.6"/>
<circle cx="417.40" cy="434.50" r="0.60" fill="#000" stroke="none" stroke-width="0.6"/>
<circle cx="417.40" cy="462.00" r="0.60" fill="#000" stroke="none" stroke-width="0.6"/>
<line x1="417.40" y1="468.20" x2="417.40" y2="493.90" stroke="#000" stroke-width="1.3" />
<line x1="458.70" y1="486.90" x2="458.70" y2="498.10" stroke="#000" stroke-width="1.3" stroke-dasharray="1.1 1.0"/>
<line x1="458.70" y1="498.10" x2="458.70" y2="516.60" stroke="#000" stroke-width="1.3" />
<line x1="500.20" y1="504.50" x2="500.20" y2="525.40" stroke="#000" stroke-width="1.3" stroke-dasharray="1.1 1.0"/>
<line x1="541.70" y1="515.00" x2="541.70" y2="535.10" stroke="#000" stroke-width="1.3" />
<circle cx="582.90" cy="512.30" r="0.60" fill="#000" stroke="none" stroke-width="0.6"/>
<line x1="582.90" y1="519.60" x2="582.90" y2="537.90" stroke="#000" stroke-width="1.3" />
<circle cx="624.40" cy="414.10" r="0.60" fill="#000" stroke="none" stroke-width="0.6"/>
<circle cx="624.40" cy="435.90" r="0.60" fill="#000" stroke="none" stroke-width="0.6"/>
<circle cx="624.40" cy="437.40" r="0.60" fill="#000" stroke="none" stroke-width="0.6"/>
<circle cx="624.40" cy="445.70" r="0.60" fill="#000" stroke="none" stroke-width="0.6"/>
<circle cx="624.40" cy="447.50" r="0.60" fill="#000" stroke="none" stroke-width="0.6"/>
<circle cx="624.40" cy="454.20" r="0.60" fill="#000" stroke="none" stroke-width="0.6"/>
<line x1="624.40" y1="456.50" x2="624.40" y2="464.00" stroke="#000" stroke-width="1.3" stroke-dasharray="1.1 1.0"/>
<line x1="624.40" y1="464.00" x2="624.40" y2="478.40" stroke="#000" stroke-width="1.3" />
<text x="267.90" y="512.46" font-size="8.9" font-style="italic" textLength="27.60" lengthAdjust="spacingAndGlyphs" >RHNO1</text>
<line x1="268.70" y1="513.00" x2="277.50" y2="542.00" stroke="#231f20" stroke-width="0.5" />
<text x="275.80" y="520.66" font-size="8.9" font-style="italic" textLength="25.70" lengthAdjust="spacingAndGlyphs" >AHSA1</text>
<line x1="285.40" y1="522.20" x2="284.40" y2="533.40" stroke="#231f20" stroke-width="0.5" />
<text x="294.60" y="502.26" font-size="8.9" font-style="italic" textLength="25.60" lengthAdjust="spacingAndGlyphs" >KIF18B</text>
<line x1="305.10" y1="502.50" x2="296.50" y2="537.30" stroke="#231f20" stroke-width="0.5" />
<text x="306.00" y="524.56" font-size="8.9" font-style="italic" textLength="26.70" lengthAdjust="spacingAndGlyphs" >MASTL</text>
<line x1="309.70" y1="525.70" x2="307.70" y2="536.60" stroke="#231f20" stroke-width="0.5" />
<line x1="329.40" y1="525.70" x2="331.30" y2="531.60" stroke="#231f20" stroke-width="0.5" />
<text x="305.10" y="562.06" font-size="8.9" font-style="italic" textLength="21.00" lengthAdjust="spacingAndGlyphs" >LDHB</text>
<line x1="307.00" y1="554.40" x2="307.30" y2="550.20" stroke="#231f20" stroke-width="0.5" />
<text x="338.20" y="509.76" font-size="8.9" font-style="italic" textLength="25.70" lengthAdjust="spacingAndGlyphs" >KIF18B</text>
<line x1="358.30" y1="510.00" x2="368.00" y2="517.20" stroke="#231f20" stroke-width="0.5" />
<text x="346.60" y="532.16" font-size="8.9" font-style="italic" textLength="18.90" lengthAdjust="spacingAndGlyphs" >AKT1</text>
<line x1="365.50" y1="525.80" x2="367.50" y2="524.60" stroke="#231f20" stroke-width="0.5" />
<text x="337.90" y="486.96" font-size="8.9" font-style="italic" textLength="26.80" lengthAdjust="spacingAndGlyphs" >MASTL</text>
<line x1="361.20" y1="487.40" x2="367.10" y2="507.30" stroke="#231f20" stroke-width="0.5" />
<text x="369.50" y="486.96" font-size="8.9" font-style="italic" textLength="36.50" lengthAdjust="spacingAndGlyphs" >PLEKHH3</text>
<line x1="380.80" y1="488.30" x2="378.00" y2="508.20" stroke="#231f20" stroke-width="0.5" />
<text x="382.90" y="497.26" font-size="8.9" font-style="italic" textLength="27.30" lengthAdjust="spacingAndGlyphs" >RHNO1</text>
<line x1="386.10" y1="497.40" x2="380.30" y2="520.40" stroke="#231f20" stroke-width="0.5" />
<text x="386.70" y="510.06" font-size="8.9" font-style="italic" textLength="20.60" lengthAdjust="spacingAndGlyphs" >P3H4</text>
<line x1="403.30" y1="510.00" x2="413.30" y2="521.40" stroke="#231f20" stroke-width="0.5" />
<text x="420.90" y="488.96" font-size="8.9" font-style="italic" textLength="29.80" lengthAdjust="spacingAndGlyphs" >RETSAT</text>
<line x1="424.90" y1="489.90" x2="422.30" y2="507.00" stroke="#231f20" stroke-width="0.5" />
<text x="426.60" y="508.06" font-size="8.9" font-style="italic" textLength="28.10" lengthAdjust="spacingAndGlyphs" >RHNO1</text>
<line x1="438.70" y1="509.00" x2="452.30" y2="519.80" stroke="#231f20" stroke-width="0.5" />
<text x="460.70" y="507.06" font-size="8.9" font-style="italic" textLength="25.60" lengthAdjust="spacingAndGlyphs" >KIF18B</text>
<line x1="468.00" y1="509.30" x2="466.00" y2="514.60" stroke="#231f20" stroke-width="0.5" />
<line x1="480.40" y1="507.70" x2="489.20" y2="533.00" stroke="#231f20" stroke-width="0.5" />
<text x="462.70" y="536.96" font-size="8.9" font-style="italic" textLength="20.90" lengthAdjust="spacingAndGlyphs" >P3H4</text>
<line x1="468.00" y1="529.10" x2="462.00" y2="523.20" stroke="#231f20" stroke-width="0.5" />
<line x1="484.40" y1="535.80" x2="495.90" y2="542.60" stroke="#231f20" stroke-width="0.5" />
<text x="472.90" y="493.96" font-size="8.9" font-style="italic" textLength="26.80" lengthAdjust="spacingAndGlyphs" >MASTL</text>
<line x1="492.40" y1="494.10" x2="494.90" y2="531.80" stroke="#231f20" stroke-width="0.5" />
<text x="501.80" y="528.46" font-size="8.9" font-style="italic" textLength="28.40" lengthAdjust="spacingAndGlyphs" >RETSAT</text>
<line x1="512.50" y1="529.70" x2="511.40" y2="537.60" stroke="#231f20" stroke-width="0.5" />
<text x="511.70" y="554.66" font-size="8.9" font-style="italic" textLength="18.50" lengthAdjust="spacingAndGlyphs" >PTK2</text>
<line x1="510.90" y1="551.10" x2="500.60" y2="549.00" stroke="#231f20" stroke-width="0.5" />
<text x="459.50" y="567.76" font-size="8.9" font-style="italic" textLength="36.50" lengthAdjust="spacingAndGlyphs" >PLEKHH3</text>
<line x1="482.00" y1="560.70" x2="487.40" y2="551.00" stroke="#231f20" stroke-width="0.5" />
<text x="509.80" y="511.66" font-size="8.9" font-style="italic" textLength="25.60" lengthAdjust="spacingAndGlyphs" >AHSA1</text>
<line x1="533.00" y1="512.50" x2="535.50" y2="515.20" stroke="#231f20" stroke-width="0.5" />
<text x="541.00" y="514.36" font-size="8.9" font-style="italic" textLength="30.60" lengthAdjust="spacingAndGlyphs" >TIMM22</text>
<line x1="543.80" y1="514.10" x2="543.40" y2="530.50" stroke="#231f20" stroke-width="0.5" />
<text x="548.40" y="525.76" font-size="8.9" font-style="italic" textLength="26.50" lengthAdjust="spacingAndGlyphs" >MASTL</text>
<line x1="551.10" y1="526.00" x2="550.40" y2="535.00" stroke="#231f20" stroke-width="0.5" />
<text x="585.50" y="524.46" font-size="8.9" font-style="italic" textLength="21.40" lengthAdjust="spacingAndGlyphs" >LDHB</text>
<line x1="590.40" y1="526.00" x2="587.60" y2="533.40" stroke="#231f20" stroke-width="0.5" />
<text x="594.10" y="469.06" font-size="8.9" font-style="italic" textLength="21.00" lengthAdjust="spacingAndGlyphs" >P3H4</text>
<line x1="615.10" y1="469.30" x2="618.80" y2="474.50" stroke="#231f20" stroke-width="0.5" />
<text x="585.80" y="490.66" font-size="8.9" font-style="italic" textLength="30.80" lengthAdjust="spacingAndGlyphs" >TIMM22</text>
<line x1="611.50" y1="491.20" x2="615.60" y2="494.00" stroke="#231f20" stroke-width="0.5" />
<rect x="265.40" y="401.20" width="417.90" height="171.10" fill="none" stroke="#8a8a8a" stroke-width="0.8" />
<line x1="262.40" y1="564.60" x2="265.40" y2="564.60" stroke="#8a8a8a" stroke-width="0.8" />
<text x="259.20" y="567.35" font-size="8.0" text-anchor="end" textLength="4.09" lengthAdjust="spacingAndGlyphs" >0</text>
<line x1="262.40" y1="517.30" x2="265.40" y2="517.30" stroke="#8a8a8a" stroke-width="0.8" />
<text x="259.20" y="520.05" font-size="8.0" text-anchor="end" textLength="4.09" lengthAdjust="spacingAndGlyphs" >1</text>
<line x1="262.40" y1="470.00" x2="265.40" y2="470.00" stroke="#8a8a8a" stroke-width="0.8" />
<text x="259.20" y="472.75" font-size="8.0" text-anchor="end" textLength="4.09" lengthAdjust="spacingAndGlyphs" >2</text>
<line x1="262.40" y1="422.70" x2="265.40" y2="422.70" stroke="#8a8a8a" stroke-width="0.8" />
<text x="259.20" y="425.45" font-size="8.0" text-anchor="end" textLength="4.09" lengthAdjust="spacingAndGlyphs" >3</text>
<text x="250.20" y="483.60" font-size="8.6" text-anchor="middle" textLength="134.00" lengthAdjust="spacingAndGlyphs" transform="rotate(-90 250.20 483.60)" >Hyperexpressed genes (effect size)</text>
<line x1="293.00" y1="572.30" x2="293.00" y2="574.50" stroke="#8a8a8a" stroke-width="0.8" />
<text x="289.40" y="585.64" font-size="9.7" text-anchor="middle" textLength="22.24" lengthAdjust="spacingAndGlyphs" >BRCA</text>
<text x="289.40" y="595.94" font-size="9.7" text-anchor="middle" textLength="41.19" lengthAdjust="spacingAndGlyphs" >(SLM = 26)</text>
<line x1="334.80" y1="572.30" x2="334.80" y2="574.50" stroke="#8a8a8a" stroke-width="0.8" />
<text x="331.61" y="585.64" font-size="9.7" text-anchor="middle" textLength="22.68" lengthAdjust="spacingAndGlyphs" >HNSC</text>
<text x="331.61" y="595.94" font-size="9.7" text-anchor="middle" textLength="41.19" lengthAdjust="spacingAndGlyphs" >(SLM = 15)</text>
<line x1="375.90" y1="572.30" x2="375.90" y2="574.50" stroke="#8a8a8a" stroke-width="0.8" />
<text x="373.82" y="585.64" font-size="9.7" text-anchor="middle" textLength="18.24" lengthAdjust="spacingAndGlyphs" >LIHC</text>
<text x="373.82" y="595.94" font-size="9.7" text-anchor="middle" textLength="41.19" lengthAdjust="spacingAndGlyphs" >(SLM = 13)</text>
<line x1="417.40" y1="572.30" x2="417.40" y2="574.50" stroke="#8a8a8a" stroke-width="0.8" />
<text x="416.03" y="585.64" font-size="9.7" text-anchor="middle" textLength="16.90" lengthAdjust="spacingAndGlyphs" >LGG</text>
<text x="416.03" y="595.94" font-size="9.7" text-anchor="middle" textLength="41.19" lengthAdjust="spacingAndGlyphs" >(SLM = 24)</text>
<line x1="458.70" y1="572.30" x2="458.70" y2="574.50" stroke="#8a8a8a" stroke-width="0.8" />
<text x="458.24" y="585.64" font-size="9.7" text-anchor="middle" textLength="21.35" lengthAdjust="spacingAndGlyphs" >LUAD</text>
<text x="458.24" y="595.94" font-size="9.7" text-anchor="middle" textLength="36.58" lengthAdjust="spacingAndGlyphs" >(SLM = 5)</text>
<line x1="500.20" y1="572.30" x2="500.20" y2="574.50" stroke="#8a8a8a" stroke-width="0.8" />
<text x="500.45" y="585.64" font-size="9.7" text-anchor="middle" textLength="22.24" lengthAdjust="spacingAndGlyphs" >PRAD</text>
<text x="500.45" y="595.94" font-size="9.7" text-anchor="middle" textLength="41.19" lengthAdjust="spacingAndGlyphs" >(SLM = 39)</text>
<line x1="541.70" y1="572.30" x2="541.70" y2="574.50" stroke="#8a8a8a" stroke-width="0.8" />
<text x="542.66" y="585.64" font-size="9.7" text-anchor="middle" textLength="20.75" lengthAdjust="spacingAndGlyphs" >STAD</text>
<text x="542.66" y="595.94" font-size="9.7" text-anchor="middle" textLength="41.19" lengthAdjust="spacingAndGlyphs" >(SLM = 12)</text>
<line x1="582.90" y1="572.30" x2="582.90" y2="574.50" stroke="#8a8a8a" stroke-width="0.8" />
<text x="584.87" y="585.64" font-size="9.7" text-anchor="middle" textLength="23.13" lengthAdjust="spacingAndGlyphs" >SKCM</text>
<text x="584.87" y="595.94" font-size="9.7" text-anchor="middle" textLength="36.58" lengthAdjust="spacingAndGlyphs" >(SLM = 3)</text>
<line x1="624.60" y1="572.30" x2="624.60" y2="574.50" stroke="#8a8a8a" stroke-width="0.8" />
<text x="627.08" y="585.64" font-size="9.7" text-anchor="middle" textLength="21.79" lengthAdjust="spacingAndGlyphs" >THCA</text>
<text x="627.08" y="595.94" font-size="9.7" text-anchor="middle" textLength="36.58" lengthAdjust="spacingAndGlyphs" >(SLM = 8)</text>
<text x="452.70" y="396.56" font-size="8.9" font-style="italic" textLength="20.30" lengthAdjust="spacingAndGlyphs" >PTEN</text>
<text x="494.00" y="410.56" font-size="8.9" textLength="183.00" lengthAdjust="spacingAndGlyphs" >Candidate synthetic lethal genes (effect size):</text>
<circle cx="652.80" cy="417.50" r="2.60" fill="#ee8282" stroke="none" stroke-width="0.6"/>
<text x="660.10" y="420.06" font-size="8.3" textLength="19.90" lengthAdjust="spacingAndGlyphs" >&#8211;0.30</text>
<circle cx="652.80" cy="435.00" r="3.20" fill="#ee8282" stroke="none" stroke-width="0.6"/>
<text x="660.10" y="437.56" font-size="8.3" textLength="19.90" lengthAdjust="spacingAndGlyphs" >&#8211;0.35</text>
<circle cx="652.80" cy="452.20" r="3.70" fill="#ee8282" stroke="none" stroke-width="0.6"/>
<text x="660.10" y="454.76" font-size="8.3" textLength="19.90" lengthAdjust="spacingAndGlyphs" >&#8211;0.40</text>
<circle cx="652.80" cy="469.50" r="4.40" fill="#ee8282" stroke="none" stroke-width="0.6"/>
<text x="660.10" y="472.06" font-size="8.3" textLength="19.90" lengthAdjust="spacingAndGlyphs" >&#8211;0.45</text>
<text x="0.30" y="626.10" font-size="12" font-weight="bold" textLength="4.60" lengthAdjust="spacingAndGlyphs" >f</text>
<text x="127.50" y="628.66" font-size="8.9" text-anchor="middle" textLength="32.30" lengthAdjust="spacingAndGlyphs" >MCF10A</text>
<text x="73.60" y="638.06" font-size="8.9" textLength="108.60" lengthAdjust="spacingAndGlyphs" ><tspan font-style="italic">RB1</tspan> mutant versus parental</text>
<line x1="32.40" y1="681.30" x2="225.00" y2="681.30" stroke="#555" stroke-width="0.9" stroke-dasharray="3.2 2"/>
<path d="M39.30 736.50 L39.30 727.40 L39.60 721.00 L40.10 713.00 L40.90 707.90 L42.00 704.00 L43.60 701.00 L46.50 696.60 L49.70 693.40 L52.50 691.30 L55.70 689.90 L59.30 688.90 L68.20 686.50 L84.20 684.40 L100.30 683.40 L120.00 682.30 L137.30 681.20 L145.60 680.60 L160.00 679.40 L172.90 678.20 L190.60 676.30 L202.90 673.40 L209.00 671.00 L213.50 667.80 L216.20 664.00 L217.30 659.00 L217.80 652.00 L218.00 645.50" fill="none" stroke="#b9b9b9" stroke-width="2.3" stroke-linejoin="round" stroke-linecap="butt"/>
<path d="M39.3 738 L39.3 729" fill="none" stroke="#cfcfcf" stroke-width="2.2" stroke-dasharray="1.6 0.9"/>
<path d="M218 651 L218 643.8" fill="none" stroke="#d6d6d6" stroke-width="2.4"/>
<circle cx="49.70" cy="693.40" r="1.40" fill="#ff1010" stroke="none" stroke-width="0.6"/>
<circle cx="55.70" cy="689.90" r="1.40" fill="#ff1010" stroke="none" stroke-width="0.6"/>
<circle cx="59.30" cy="688.90" r="1.40" fill="#ff1010" stroke="none" stroke-width="0.6"/>
<circle cx="43.60" cy="701.00" r="1.40" fill="#ff1010" stroke="none" stroke-width="0.6"/>
<circle cx="40.90" cy="707.90" r="1.40" fill="#ff1010" stroke="none" stroke-width="0.6"/>
<circle cx="39.60" cy="713.30" r="1.40" fill="#ff1010" stroke="none" stroke-width="0.6"/>
<circle cx="39.00" cy="721.00" r="1.40" fill="#ff1010" stroke="none" stroke-width="0.6"/>
<circle cx="137.30" cy="681.00" r="1.40" fill="#ff1010" stroke="none" stroke-width="0.6"/>
<circle cx="145.60" cy="680.40" r="1.40" fill="#ff1010" stroke="none" stroke-width="0.6"/>
<text x="36.90" y="678.36" font-size="8.9" font-style="italic" textLength="19.20" lengthAdjust="spacingAndGlyphs" >E2F3</text>
<line x1="44.90" y1="681.00" x2="49.70" y2="692.40" stroke="#231f20" stroke-width="0.5" />
<text x="74.30" y="696.46" font-size="8.9" font-style="italic" textLength="21.50" lengthAdjust="spacingAndGlyphs" >CDK2</text>
<line x1="73.00" y1="693.70" x2="60.40" y2="689.00" stroke="#231f20" stroke-width="0.5" />
<text x="54.50" y="705.16" font-size="8.9" font-style="italic" textLength="27.80" lengthAdjust="spacingAndGlyphs" >CCNE2</text>
<line x1="57.30" y1="698.30" x2="56.10" y2="690.90" stroke="#231f20" stroke-width="0.5" />
<text x="51.30" y="714.16" font-size="8.9" font-style="italic" textLength="16.90" lengthAdjust="spacingAndGlyphs" >TAF1</text>
<line x1="50.50" y1="709.00" x2="44.10" y2="701.60" stroke="#231f20" stroke-width="0.5" />
<text x="48.90" y="722.46" font-size="8.9" font-style="italic" textLength="20.10" lengthAdjust="spacingAndGlyphs" >SKP2</text>
<line x1="48.60" y1="717.00" x2="41.40" y2="708.30" stroke="#231f20" stroke-width="0.5" />
<text x="48.60" y="730.46" font-size="8.9" font-style="italic" textLength="22.50" lengthAdjust="spacingAndGlyphs" >TFDP1</text>
<line x1="47.30" y1="725.00" x2="40.10" y2="714.00" stroke="#231f20" stroke-width="0.5" />
<text x="48.10" y="738.56" font-size="8.9" font-style="italic" textLength="25.20" lengthAdjust="spacingAndGlyphs" >CHEK1</text>
<line x1="46.50" y1="733.10" x2="39.40" y2="722.00" stroke="#231f20" stroke-width="0.5" />
<text x="121.80" y="672.76" font-size="8.9" font-style="italic" textLength="33.10" lengthAdjust="spacingAndGlyphs" >CDKN2A</text>
<line x1="144.70" y1="675.00" x2="145.50" y2="679.60" stroke="#231f20" stroke-width="0.5" />
<text x="127.40" y="695.66" font-size="8.9" font-style="italic" textLength="27.00" lengthAdjust="spacingAndGlyphs" >CCNE1</text>
<line x1="137.60" y1="682.00" x2="138.50" y2="688.00" stroke="#231f20" stroke-width="0.5" />
<rect x="32.40" y="643.30" width="192.60" height="98.20" fill="none" stroke="#8a8a8a" stroke-width="0.8" />
<line x1="29.20" y1="648.90" x2="32.40" y2="648.90" stroke="#8a8a8a" stroke-width="0.8" />
<text x="25.60" y="651.65" font-size="8.0" text-anchor="end" textLength="8.19" lengthAdjust="spacingAndGlyphs" >10</text>
<line x1="29.20" y1="665.10" x2="32.40" y2="665.10" stroke="#8a8a8a" stroke-width="0.8" />
<text x="25.60" y="667.85" font-size="8.0" text-anchor="end" textLength="4.09" lengthAdjust="spacingAndGlyphs" >5</text>
<line x1="29.20" y1="681.30" x2="32.40" y2="681.30" stroke="#8a8a8a" stroke-width="0.8" />
<text x="25.60" y="684.05" font-size="8.0" text-anchor="end" textLength="4.09" lengthAdjust="spacingAndGlyphs" >0</text>
<line x1="29.20" y1="697.50" x2="32.40" y2="697.50" stroke="#8a8a8a" stroke-width="0.8" />
<text x="25.60" y="700.25" font-size="8.0" text-anchor="end" textLength="8.19" lengthAdjust="spacingAndGlyphs" >&#8211;5</text>
<line x1="29.20" y1="713.70" x2="32.40" y2="713.70" stroke="#8a8a8a" stroke-width="0.8" />
<text x="25.60" y="716.45" font-size="8.0" text-anchor="end" textLength="12.28" lengthAdjust="spacingAndGlyphs" >&#8211;10</text>
<line x1="29.20" y1="729.90" x2="32.40" y2="729.90" stroke="#8a8a8a" stroke-width="0.8" />
<text x="25.60" y="732.65" font-size="8.0" text-anchor="end" textLength="12.28" lengthAdjust="spacingAndGlyphs" >&#8211;15</text>
<line x1="39.30" y1="741.50" x2="39.30" y2="743.50" stroke="#8a8a8a" stroke-width="0.8" />
<text x="39.30" y="753.45" font-size="8.0" text-anchor="middle" textLength="4.09" lengthAdjust="spacingAndGlyphs" >0</text>
<line x1="88.70" y1="741.50" x2="88.70" y2="743.50" stroke="#8a8a8a" stroke-width="0.8" />
<text x="88.70" y="753.45" font-size="8.0" text-anchor="middle" textLength="18.42" lengthAdjust="spacingAndGlyphs" >5,000</text>
<line x1="138.10" y1="741.50" x2="138.10" y2="743.50" stroke="#8a8a8a" stroke-width="0.8" />
<text x="138.10" y="753.45" font-size="8.0" text-anchor="middle" textLength="22.51" lengthAdjust="spacingAndGlyphs" >10,000</text>
<line x1="187.50" y1="741.50" x2="187.50" y2="743.50" stroke="#8a8a8a" stroke-width="0.8" />
<text x="187.50" y="753.45" font-size="8.0" text-anchor="middle" textLength="22.51" lengthAdjust="spacingAndGlyphs" >15,000</text>
<text x="128.00" y="764.36" font-size="8.9" text-anchor="middle" textLength="19.11" lengthAdjust="spacingAndGlyphs" >Rank</text>
<text x="9.30" y="691.80" font-size="8.6" text-anchor="middle" textLength="88.60" lengthAdjust="spacingAndGlyphs" transform="rotate(-90 9.30 691.80)" >&#916; (Isogenic &#8211; parental)</text>
<text x="259.60" y="625.90" font-size="12" font-weight="bold" textLength="7.80" lengthAdjust="spacingAndGlyphs" >g</text>
<line x1="232.40" y1="656.10" x2="259.40" y2="656.10" stroke="#4a5870" stroke-width="1.1" />
<path d="M262.40 656.10 L257.40 653.80 L258.60 656.10 L257.40 658.40 Z" fill="#4a5870"/>
<text x="305.90" y="640.26" font-size="8.9" font-style="italic" text-anchor="middle" fill="#2a962a" textLength="15.93" lengthAdjust="spacingAndGlyphs" >RB1</text>
<text x="267.60" y="649.36" font-size="8.9" fill="#2a962a" textLength="79.90" lengthAdjust="spacingAndGlyphs" >candidate synthetic</text>
<text x="307.30" y="659.46" font-size="8.9" text-anchor="middle" fill="#2a962a" textLength="49.20" lengthAdjust="spacingAndGlyphs" >lethal genes</text>
<text x="273.20" y="669.96" font-size="8.9" fill="#2a962a" textLength="68.80" lengthAdjust="spacingAndGlyphs" >(isogenic screen)</text>
<line x1="361.60" y1="656.10" x2="374.40" y2="656.10" stroke="#4a5870" stroke-width="1.1" />
<path d="M377.40 656.10 L372.40 653.80 L373.60 656.10 L372.40 658.40 Z" fill="#4a5870"/>
<circle cx="413.1" cy="656.8" r="25.1" fill="none" stroke="#4fae1e" stroke-width="1.5"/>
<circle cx="442.3" cy="656.8" r="25.6" fill="none" stroke="#4fae1e" stroke-width="1.5"/>
<text x="403.20" y="659.80" font-size="9.6" text-anchor="middle" textLength="15.30" lengthAdjust="spacingAndGlyphs" >987</text>
<text x="427.90" y="659.80" font-size="9.6" text-anchor="middle" textLength="10.20" lengthAdjust="spacingAndGlyphs" >74</text>
<text x="452.40" y="659.80" font-size="9.6" text-anchor="middle" textLength="15.30" lengthAdjust="spacingAndGlyphs" >318</text>
<text x="381.20" y="628.26" font-size="8.9" textLength="92.20" lengthAdjust="spacingAndGlyphs" >Overlap <tspan font-style="italic">P</tspan> = 2.85 &#215; 10<tspan font-size="6" dy="-3.2">&#8211;19</tspan></text>
<line x1="478.80" y1="656.10" x2="562.50" y2="656.10" stroke="#4a5870" stroke-width="1.1" />
<path d="M475.80 656.10 L480.80 653.80 L479.60 656.10 L480.80 658.40 Z" fill="#4a5870"/>
<line x1="428.00" y1="671.20" x2="428.00" y2="678.60" stroke="#4a5870" stroke-width="1.3" />
<path d="M427.6 678.5 C426.8 688, 423.5 696, 418.2 703.4" fill="none" stroke="#4a5870" stroke-width="0.8"/>
<path d="M428.4 678.5 C429.2 688, 432.5 696, 437.4 703.4" fill="none" stroke="#4a5870" stroke-width="0.8"/>
<path d="M416.8 705.6 L417.0 701.3 L418.7 702.5 L420.4 703.5 Z" fill="#4a5870"/>
<path d="M438.8 705.6 L435.2 703.5 L436.9 702.5 L438.6 701.3 Z" fill="#4a5870"/>
<circle cx="362.6" cy="723.3" r="25.3" fill="none" stroke="#a98af0" stroke-width="1.5"/>
<circle cx="392.4" cy="723.3" r="25.5" fill="none" stroke="#4fae1e" stroke-width="1.5"/>
<text x="351.60" y="726.60" font-size="9.6" text-anchor="middle" textLength="21.00" lengthAdjust="spacingAndGlyphs" >2,966</text>
<text x="377.10" y="726.60" font-size="9.6" text-anchor="middle" textLength="10.20" lengthAdjust="spacingAndGlyphs" >27</text>
<text x="402.20" y="726.60" font-size="9.6" text-anchor="middle" textLength="10.20" lengthAdjust="spacingAndGlyphs" >47</text>
<text x="260.20" y="718.86" font-size="8.9" fill="#7d44ea" textLength="65.50" lengthAdjust="spacingAndGlyphs" >Hyperexpressed</text>
<text x="293.00" y="729.66" font-size="8.9" text-anchor="middle" fill="#7d44ea" textLength="23.50" lengthAdjust="spacingAndGlyphs" >genes</text>
<text x="261.90" y="740.06" font-size="8.9" fill="#7d44ea" textLength="62.10" lengthAdjust="spacingAndGlyphs" >(SCAN-B TNBC)</text>
<line x1="315.60" y1="725.30" x2="327.90" y2="725.30" stroke="#4a5870" stroke-width="1.1" />
<path d="M330.90 725.30 L325.90 723.00 L327.10 725.30 L325.90 727.60 Z" fill="#4a5870"/>
<text x="328.00" y="760.86" font-size="8.9" textLength="88.40" lengthAdjust="spacingAndGlyphs" >Overlap <tspan font-style="italic">P</tspan> = 3.15 &#215;10<tspan font-size="6" dy="-3.2">&#8211;7</tspan></text>
<circle cx="463.3" cy="723.3" r="25.4" fill="none" stroke="#4fae1e" stroke-width="1.5"/>
<circle cx="491.4" cy="723.3" r="25.4" fill="none" stroke="#a98af0" stroke-width="1.5"/>
<text x="452.00" y="726.60" font-size="9.6" text-anchor="middle" textLength="10.20" lengthAdjust="spacingAndGlyphs" >51</text>
<text x="478.10" y="726.60" font-size="9.6" text-anchor="middle" textLength="10.20" lengthAdjust="spacingAndGlyphs" >23</text>
<text x="503.80" y="726.60" font-size="9.6" text-anchor="middle" textLength="21.00" lengthAdjust="spacingAndGlyphs" >2,147</text>
<text x="441.20" y="760.66" font-size="8.9" textLength="76.60" lengthAdjust="spacingAndGlyphs" >Overlap <tspan font-style="italic">P</tspan> = 7 &#215; 10<tspan font-size="6" dy="-3.2">&#8211;6</tspan></text>
<line x1="526.80" y1="724.30" x2="539.60" y2="724.30" stroke="#4a5870" stroke-width="1.1" />
<path d="M523.80 724.30 L528.80 722.00 L527.60 724.30 L528.80 726.60 Z" fill="#4a5870"/>
<text x="532.90" y="718.86" font-size="8.9" fill="#7d44ea" textLength="65.80" lengthAdjust="spacingAndGlyphs" >Hyperexpressed</text>
<text x="565.10" y="729.36" font-size="8.9" text-anchor="middle" fill="#7d44ea" textLength="23.50" lengthAdjust="spacingAndGlyphs" >genes</text>
<text x="539.00" y="739.76" font-size="8.9" fill="#7d44ea" textLength="53.70" lengthAdjust="spacingAndGlyphs" >(TCGA TNBC)</text>
<rect x="562.50" y="617.50" width="120.80" height="75.90" fill="none" stroke="#5a6a82" stroke-width="0.9" />
<text x="625.50" y="630.96" font-size="8.9" text-anchor="middle" textLength="71.40" lengthAdjust="spacingAndGlyphs" >DepMap cell lines</text>
<text x="565.80" y="642.66" font-size="8.9" textLength="116.90" lengthAdjust="spacingAndGlyphs" ><tspan font-style="italic">RB1</tspan> defective (<tspan font-style="italic">n</tspan> = 134) versus</text>
<text x="579.20" y="654.06" font-size="8.9" textLength="91.70" lengthAdjust="spacingAndGlyphs" ><tspan font-style="italic">RB1</tspan> proficient (<tspan font-style="italic">n</tspan> = 879)</text>
<text x="625.60" y="665.16" font-size="8.9" font-style="italic" text-anchor="middle" fill="#2a962a" textLength="15.93" lengthAdjust="spacingAndGlyphs" >RB1</text>
<text x="586.00" y="674.56" font-size="8.9" fill="#2a962a" textLength="78.90" lengthAdjust="spacingAndGlyphs" >candidate synthetic</text>
<text x="626.00" y="684.36" font-size="8.9" text-anchor="middle" fill="#2a962a" textLength="49.20" lengthAdjust="spacingAndGlyphs" >lethal genes</text>
</svg></body></html>
